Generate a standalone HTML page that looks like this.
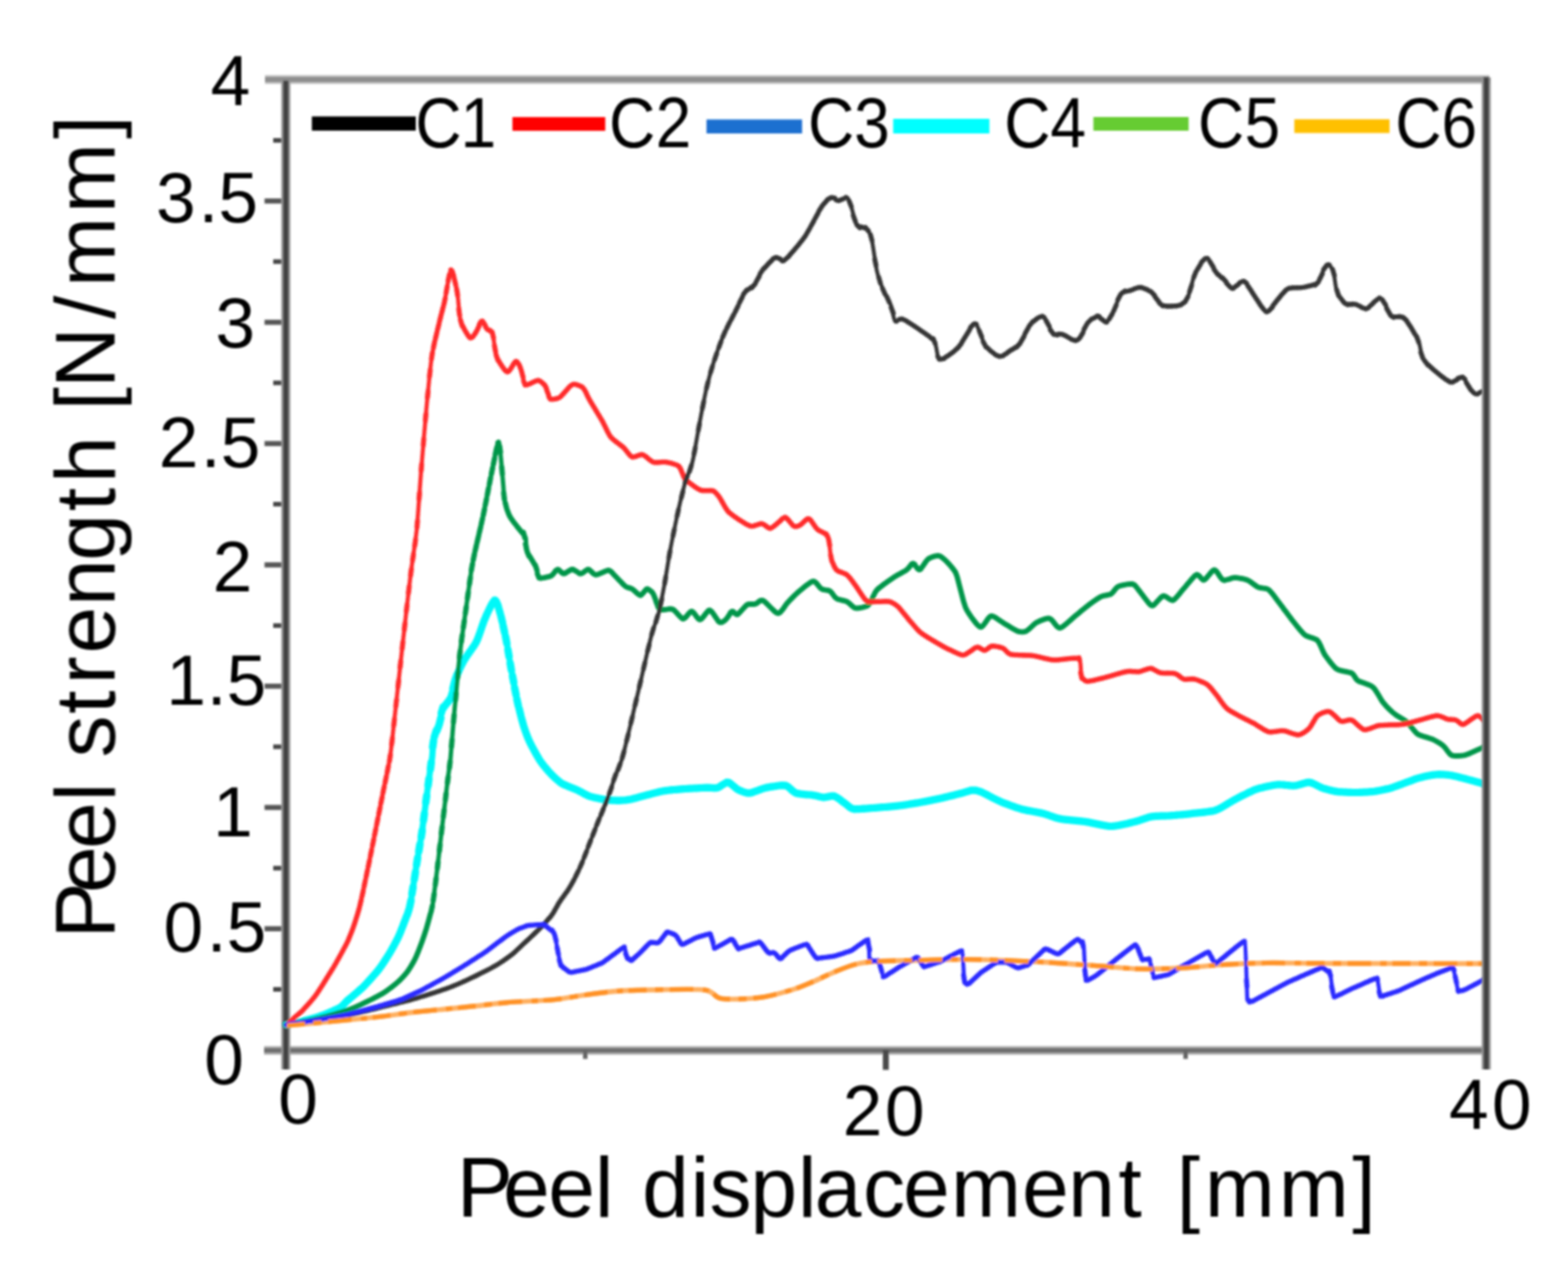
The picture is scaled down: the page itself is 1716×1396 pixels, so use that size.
<!DOCTYPE html>
<html lang="en"><head><meta charset="utf-8"><title>Peel strength vs peel displacement</title>
<style>
html,body{margin:0;padding:0;background:#fff;}
body{width:1716px;height:1396px;overflow:hidden;}
svg{display:block;}
text{font-family:"Liberation Sans", sans-serif;fill:#000;}
.curve{fill:none;stroke-linejoin:round;stroke-linecap:butt;}
</style></head><body>
<svg width="1716" height="1396" viewBox="0 0 1716 1396">
<defs><filter id="soft" x="-5%" y="-5%" width="110%" height="110%"><feGaussianBlur stdDeviation="1.3"/></filter><filter id="softl" x="-5%" y="-5%" width="110%" height="110%"><feGaussianBlur stdDeviation="1.3"/></filter></defs>
<rect width="1716" height="1396" fill="#ffffff"/>
<g filter="url(#soft)" fill="none">
<line x1="290" y1="87.0" x2="1630.0" y2="87.0" stroke="#c8c8c8" stroke-width="9.8"/>
<line x1="290" y1="87.0" x2="1630.0" y2="87.0" stroke="#8e8e8e" stroke-width="5.8"/>
<line x1="289" y1="1149.2" x2="1626.5" y2="1149.2" stroke="#b4b4b4" stroke-width="9.5"/>
<line x1="289" y1="1149.2" x2="1626.5" y2="1149.2" stroke="#6e6e6e" stroke-width="5.2"/>
<line x1="289.5" y1="219.9" x2="312.8" y2="219.9" stroke="#575757" stroke-width="5.6"/>
<line x1="289.5" y1="352.6" x2="312.8" y2="352.6" stroke="#575757" stroke-width="5.6"/>
<line x1="289.5" y1="485.3" x2="312.8" y2="485.3" stroke="#575757" stroke-width="5.6"/>
<line x1="289.5" y1="618.0" x2="312.8" y2="618.0" stroke="#575757" stroke-width="5.6"/>
<line x1="289.5" y1="750.7" x2="312.8" y2="750.7" stroke="#575757" stroke-width="5.6"/>
<line x1="289.5" y1="883.4" x2="312.8" y2="883.4" stroke="#575757" stroke-width="5.6"/>
<line x1="289.5" y1="1016.1" x2="312.8" y2="1016.1" stroke="#575757" stroke-width="5.6"/>
<line x1="299" y1="153.6" x2="312.8" y2="153.6" stroke="#444" stroke-width="5"/>
<line x1="299" y1="286.2" x2="312.8" y2="286.2" stroke="#444" stroke-width="5"/>
<line x1="299" y1="418.9" x2="312.8" y2="418.9" stroke="#444" stroke-width="5"/>
<line x1="299" y1="551.6" x2="312.8" y2="551.6" stroke="#444" stroke-width="5"/>
<line x1="299" y1="684.4" x2="312.8" y2="684.4" stroke="#444" stroke-width="5"/>
<line x1="299" y1="817.0" x2="312.8" y2="817.0" stroke="#444" stroke-width="5"/>
<line x1="299" y1="949.8" x2="312.8" y2="949.8" stroke="#444" stroke-width="5"/>
<line x1="299" y1="1082.4" x2="312.8" y2="1082.4" stroke="#444" stroke-width="5"/>
<line x1="969.4" y1="1148.8" x2="969.4" y2="1170.5" stroke="#4a4a4a" stroke-width="6.5"/>
<line x1="640.5" y1="1148.8" x2="640.5" y2="1158.5" stroke="#666" stroke-width="5"/>
<line x1="1297.5" y1="1148.8" x2="1297.5" y2="1158.5" stroke="#666" stroke-width="5"/>
<line x1="312.8" y1="88.2" x2="312.8" y2="1170" stroke="#9a9a9a" stroke-width="10.0"/>
<line x1="312.8" y1="88.2" x2="312.8" y2="1170" stroke="#424242" stroke-width="6.0"/>
</g>
<g filter="url(#softl)">
<g class="curve">
<path d="M314.0 1121.0C315.9 1120.6 326.1 1118.5 330.0 1117.5C333.9 1116.5 343.0 1114.1 346.6 1113.0C350.2 1111.9 356.9 1109.3 360.0 1108.0C363.1 1106.7 370.2 1103.6 372.6 1102.0C375.0 1100.4 377.0 1097.6 380.0 1094.9C383.0 1092.2 393.3 1083.9 397.5 1079.7C401.7 1075.5 411.5 1064.5 415.0 1060.0C418.5 1055.5 424.1 1046.6 426.6 1042.4C429.1 1038.2 434.0 1029.2 436.0 1025.0C438.0 1020.8 441.5 1011.7 443.0 1007.5C444.5 1003.3 447.3 997.3 448.8 990.0C450.3 982.7 454.3 956.0 455.8 946.6C457.3 937.2 460.4 920.0 461.6 911.6C462.8 903.2 465.1 885.0 466.2 876.6C467.3 868.2 470.1 847.5 470.9 841.7C471.7 835.9 472.5 832.2 473.0 828.0C473.5 823.8 473.9 811.2 474.8 807.0C475.7 802.8 479.6 796.6 480.7 793.0C481.8 789.4 482.5 780.4 484.0 776.8C485.5 773.2 491.8 766.7 493.5 762.8C495.2 758.9 496.3 748.8 498.0 744.0C499.7 739.2 504.7 728.0 507.5 723.0C510.3 718.0 518.6 707.6 521.4 702.0C524.2 696.4 528.4 682.0 530.8 676.6C533.2 671.2 539.4 657.5 541.3 656.7C543.2 655.9 545.5 664.4 547.0 669.6C548.5 674.8 552.6 693.0 554.0 700.0C555.4 707.0 557.3 720.0 558.7 727.8C560.1 735.6 564.0 757.2 565.7 765.0C567.4 772.8 571.0 787.4 572.7 793.0C574.4 798.6 577.5 806.9 579.7 811.7C581.9 816.5 588.6 828.5 591.4 832.7C594.2 836.9 600.2 843.8 603.0 846.7C605.8 849.6 611.3 854.9 614.7 857.0C618.1 859.1 627.4 862.3 631.0 864.0C634.6 865.7 641.4 869.7 645.0 871.0C648.6 872.3 657.4 874.1 661.3 874.7C665.2 875.3 674.2 875.8 677.6 875.8C681.0 875.8 686.9 875.1 690.0 874.5C693.1 873.9 698.9 872.1 703.3 871.0C707.7 869.9 721.0 866.3 726.6 865.3C732.2 864.3 744.4 863.4 750.0 863.0C755.6 862.6 769.0 861.9 773.2 861.8C777.4 861.7 782.2 862.5 785.0 861.8C787.8 861.1 793.8 855.7 796.6 856.0C799.4 856.3 805.2 862.6 808.0 864.0C810.8 865.4 816.3 867.9 820.0 867.6C823.7 867.3 833.8 862.8 838.5 861.8C843.2 860.8 855.6 858.7 859.5 859.4C863.4 860.1 867.4 866.3 871.0 867.6C874.6 868.9 886.2 869.4 889.8 870.0C893.4 870.6 898.6 872.2 901.4 872.3C904.2 872.4 910.2 870.2 913.0 871.0C915.8 871.8 922.3 877.3 924.8 879.0C927.3 880.7 930.4 884.4 934.0 885.0C937.6 885.6 949.1 884.4 955.0 884.0C960.9 883.6 976.8 882.3 983.0 881.6C989.2 880.9 1000.7 879.0 1006.3 878.0C1011.9 877.0 1024.0 874.6 1029.6 873.4C1035.2 872.2 1048.8 868.7 1053.0 867.6C1057.2 866.5 1062.1 864.6 1064.6 864.5C1067.1 864.4 1070.4 865.1 1074.0 866.6C1077.6 868.1 1089.7 874.8 1095.0 877.0C1100.3 879.2 1112.7 883.7 1118.3 885.3C1123.9 886.9 1136.6 888.7 1141.6 890.0C1146.6 891.3 1154.4 894.7 1160.0 895.8C1165.6 896.9 1181.3 898.0 1188.0 899.0C1194.7 900.0 1209.5 904.0 1216.0 904.0C1222.5 904.0 1236.5 900.3 1241.8 899.0C1247.1 897.7 1255.7 894.2 1260.5 893.4C1265.3 892.6 1276.1 892.7 1281.4 892.3C1286.7 891.9 1298.9 890.7 1304.8 890.0C1310.7 889.3 1324.8 888.2 1330.4 886.4C1336.0 884.6 1346.1 877.5 1351.4 874.8C1356.7 872.1 1369.1 865.5 1374.7 863.5C1380.3 861.5 1393.0 859.0 1398.0 858.5C1403.0 858.0 1412.4 859.9 1416.6 859.6C1420.8 859.3 1429.4 855.7 1433.0 856.0C1436.6 856.3 1443.4 860.8 1447.0 862.0C1450.6 863.2 1458.5 865.4 1462.9 866.0C1467.3 866.6 1479.0 867.0 1483.8 867.0C1488.6 867.0 1498.0 866.6 1502.5 866.0C1507.0 865.4 1516.8 863.5 1521.0 862.4C1525.2 861.3 1533.5 858.0 1537.4 856.6C1541.3 855.2 1549.6 851.9 1553.8 850.8C1558.0 849.7 1568.2 847.6 1572.4 847.3C1576.6 847.0 1584.5 847.7 1588.7 848.4C1592.9 849.1 1603.1 851.9 1607.4 853.0C1611.7 854.1 1622.8 857.2 1624.9 857.8" stroke="#00f8f8" stroke-width="6.8"/>
<path d="M313.4 1121.1l1.1 -0.2M315.4 1120.7l2.2 -0.5M317.9 1120.2l2.2 -0.5M320.4 1119.6l2.2 -0.5M322.9 1119.1l2.2 -0.5M325.4 1118.6l2.2 -0.5M327.9 1118.0l2.2 -0.5M330.4 1117.4l2.2 -0.6M332.9 1116.8l2.2 -0.6M335.4 1116.1l2.2 -0.6M337.9 1115.5l2.2 -0.6M340.4 1114.8l2.2 -0.6M342.9 1114.1l2.2 -0.7M345.4 1113.4l2.2 -0.7M347.9 1112.6l2.2 -0.8M350.4 1111.7l2.2 -0.8M352.9 1110.8l2.2 -0.8M355.4 1109.9l2.2 -0.9M357.9 1108.9l2.2 -0.9M360.4 1107.8l2.2 -1.0M362.9 1106.8l2.2 -1.0M365.4 1105.6l2.2 -1.0M367.9 1104.5l2.2 -1.1M370.4 1103.3l2.2 -1.3M372.9 1101.9l2.2 -1.9M375.4 1099.6l2.2 -2.3M377.9 1096.9l2.2 -2.2M380.4 1094.6l2.2 -2.0M382.9 1092.4l2.2 -1.9M385.4 1090.3l2.2 -1.9M387.9 1088.2l2.2 -1.9M390.4 1086.1l2.2 -1.9M392.9 1083.9l2.2 -2.0M395.4 1081.7l2.2 -2.1M397.9 1079.3l2.2 -2.3M400.4 1076.7l2.2 -2.4M402.9 1074.0l2.2 -2.5M405.4 1071.2l2.2 -2.5M407.9 1068.4l2.2 -2.6M410.4 1065.6l2.2 -2.6M412.9 1062.7l2.2 -2.8M415.4 1059.5l2.2 -3.1M417.9 1056.0l2.2 -3.3M420.4 1052.3l2.2 -3.5M422.9 1048.4l2.2 -3.6M425.4 1044.5l2.2 -3.8M427.9 1040.2l2.2 -4.0M430.4 1035.8l2.2 -4.2M432.9 1031.2l2.2 -4.4M435.4 1026.4l2.2 -5.0M437.9 1020.7l2.2 -5.6M440.4 1014.4l2.2 -5.9M442.9 1007.9l2.2 -6.0M445.5 1001.5l2.1 -6.6M448.3 992.4l1.4 -6.8M450.9 977.6l1.1 -6.9M453.5 961.6l1.1 -6.9M455.9 945.8l1.1 -6.9M458.4 931.0l1.1 -6.9M461.0 915.7l1.0 -6.9M463.5 897.2l0.9 -6.9M466.0 877.8l0.9 -6.9M468.5 859.2l0.9 -6.9M471.1 841.2l0.8 -6.9M473.5 817.2l1.0 -6.9M475.5 805.6l2.0 -6.5M477.9 800.0l2.2 -5.8M480.7 792.6l1.7 -6.8M483.0 779.9l1.9 -6.3M485.4 774.4l2.2 -3.3M487.9 771.0l2.2 -3.0M490.4 768.0l2.2 -3.6M493.0 764.6l2.0 -6.4M495.7 753.3l1.7 -6.8M497.9 744.6l2.2 -6.5M500.4 738.0l2.2 -5.1M502.9 732.4l2.2 -4.8M505.4 727.0l2.2 -4.2M507.9 722.4l2.2 -3.6M510.4 718.5l2.2 -3.3M512.9 714.9l2.2 -3.2M515.4 711.4l2.2 -3.3M517.9 707.9l2.2 -3.6M520.4 704.1l2.2 -4.6M522.9 698.6l2.2 -6.0M525.4 691.8l2.2 -6.5M527.9 684.3l2.2 -6.1M530.4 677.7l2.2 -5.3M532.9 671.9l2.2 -4.8M535.4 666.6l2.2 -4.4M537.9 661.4l2.2 -3.4M541.5 656.7l0.0 0.0M542.9 657.7l2.1 4.8M545.5 664.5l1.9 6.7M548.2 674.1l1.7 6.8M550.7 685.0l1.5 6.8M553.3 696.6l1.3 6.9M555.9 711.1l1.2 6.9M558.4 726.0l1.2 6.9M560.9 739.7l1.3 6.9M563.3 753.0l1.4 6.9M565.7 765.2l1.5 6.8M568.2 775.6l1.7 6.8M570.6 785.4l1.9 6.7M572.9 793.7l2.2 6.6M575.4 801.1l2.2 5.9M577.9 807.6l2.2 5.1M580.4 813.1l2.2 4.4M582.9 817.9l2.2 4.1M585.4 822.5l2.2 4.0M587.9 826.9l2.2 3.8M590.4 831.2l2.2 3.3M592.9 834.8l2.2 2.9M595.4 838.0l2.2 2.7M597.9 841.0l2.2 2.6M600.4 843.9l2.2 2.4M602.9 846.6l2.2 2.3M605.4 849.1l2.2 2.1M607.9 851.5l2.2 2.0M610.4 853.7l2.2 1.8M612.9 855.8l2.2 1.5M615.4 857.4l2.2 1.2M617.9 858.6l2.2 1.0M620.4 859.7l2.2 0.9M622.9 860.7l2.2 0.9M625.4 861.7l2.2 0.9M627.9 862.7l2.2 0.9M630.4 863.7l2.2 1.1M632.9 864.9l2.2 1.2M635.4 866.2l2.2 1.2M637.9 867.6l2.2 1.2M640.4 868.9l2.2 1.1M642.9 870.2l2.2 0.9M645.4 871.1l2.2 0.7M647.9 871.9l2.2 0.6M650.4 872.5l2.2 0.5M652.9 873.1l2.2 0.5M655.4 873.6l2.2 0.4M657.9 874.1l2.2 0.4M660.4 874.6l2.2 0.3M662.9 874.9l2.2 0.2M665.4 875.2l2.2 0.2M667.9 875.4l2.2 0.2M670.4 875.5l2.2 0.1M672.9 875.7l2.2 0.1M675.4 875.8l2.2 0.0M677.9 875.8l2.2 -0.1M680.4 875.7l2.2 -0.2M682.9 875.5l2.2 -0.2M685.4 875.2l2.2 -0.3M687.9 874.9l2.2 -0.4M690.4 874.4l2.2 -0.5M692.9 873.8l2.2 -0.6M695.4 873.2l2.2 -0.6M697.9 872.5l2.2 -0.6M700.4 871.8l2.2 -0.6M702.9 871.1l2.2 -0.6M705.4 870.5l2.2 -0.6M707.9 869.8l2.2 -0.6M710.4 869.2l2.2 -0.6M712.9 868.5l2.2 -0.6M715.4 867.9l2.2 -0.6M717.9 867.2l2.2 -0.5M720.4 866.6l2.2 -0.5M722.9 866.1l2.2 -0.5M725.4 865.5l2.2 -0.4M727.9 865.1l2.2 -0.3M730.4 864.8l2.2 -0.3M732.9 864.5l2.2 -0.2M735.4 864.2l2.2 -0.2M737.9 864.0l2.2 -0.2M740.4 863.8l2.2 -0.2M742.9 863.6l2.2 -0.2M745.4 863.4l2.2 -0.2M747.9 863.2l2.2 -0.2M750.4 863.0l2.2 -0.2M752.9 862.8l2.2 -0.1M755.4 862.7l2.2 -0.1M757.9 862.5l2.2 -0.1M760.4 862.4l2.2 -0.1M762.9 862.3l2.2 -0.1M765.4 862.1l2.2 -0.1M767.9 862.0l2.2 -0.1M770.4 861.9l2.2 -0.1M772.9 861.8l2.2 -0.0M775.4 861.8l2.2 0.1M777.9 861.9l2.2 0.1M780.4 862.1l2.2 0.0M782.9 862.2l2.2 -0.4M785.4 861.7l2.2 -1.0M787.9 860.4l2.2 -1.4M790.4 858.8l2.2 -1.3M792.9 857.2l2.2 -0.9M795.6 855.9l1.7 0.1M797.9 856.4l2.2 1.3M800.4 858.1l2.2 1.8M802.9 860.1l2.2 1.8M805.4 862.3l2.2 1.5M807.9 863.9l2.2 1.1M810.4 865.1l2.2 0.9M812.9 866.2l2.2 0.7M815.4 867.0l2.2 0.5M817.9 867.6l2.2 0.0M820.4 867.6l2.2 -0.4M822.9 867.0l2.2 -0.7M825.4 866.2l2.2 -0.8M827.9 865.3l2.2 -0.8M830.4 864.4l2.2 -0.8M832.9 863.5l2.2 -0.8M835.4 862.6l2.2 -0.6M837.9 861.9l2.2 -0.5M840.4 861.4l2.2 -0.4M842.9 861.0l2.2 -0.4M845.4 860.6l2.2 -0.3M847.9 860.2l2.2 -0.3M850.4 859.8l2.2 -0.3M852.9 859.5l2.2 -0.2M855.4 859.3l2.2 -0.0M857.9 859.2l2.1 0.4M860.4 859.6l2.1 1.2M862.9 861.1l2.2 1.9M865.4 863.4l2.2 2.0M867.9 865.7l2.2 1.5M870.4 867.3l2.2 0.8M872.9 868.1l2.2 0.4M875.4 868.5l2.2 0.3M877.9 868.8l2.2 0.2M880.4 869.1l2.2 0.2M882.9 869.3l2.2 0.2M885.4 869.5l2.2 0.2M887.9 869.7l2.2 0.3M890.4 870.1l2.2 0.4M892.9 870.6l2.2 0.5M895.4 871.2l2.2 0.5M897.9 871.8l2.2 0.4M900.4 872.3l2.2 0.0M902.9 872.2l2.2 -0.3M905.4 871.8l2.2 -0.4M907.9 871.2l2.2 -0.3M910.4 870.8l2.1 0.1M912.9 871.0l2.1 0.9M915.4 872.2l2.2 1.5M917.9 873.8l2.2 1.6M920.4 875.7l2.2 1.7M922.9 877.6l2.2 1.7M925.4 879.4l2.2 1.8M927.9 881.6l2.2 1.7M930.4 883.5l2.2 1.1M932.9 884.8l2.2 0.5M935.4 885.1l2.2 0.1M937.9 885.2l2.2 -0.1M940.4 885.1l2.2 -0.1M942.9 884.9l2.2 -0.2M945.4 884.8l2.2 -0.2M947.9 884.6l2.2 -0.2M950.4 884.4l2.2 -0.2M952.9 884.2l2.2 -0.2M955.4 884.0l2.2 -0.2M957.9 883.8l2.2 -0.2M960.4 883.6l2.2 -0.2M962.9 883.4l2.2 -0.2M965.4 883.2l2.2 -0.2M967.9 883.0l2.2 -0.2M970.4 882.8l2.2 -0.2M972.9 882.6l2.2 -0.2M975.4 882.4l2.2 -0.2M977.9 882.1l2.2 -0.2M980.4 881.9l2.2 -0.2M982.9 881.6l2.2 -0.3M985.4 881.3l2.2 -0.3M987.9 881.0l2.2 -0.3M990.4 880.6l2.2 -0.3M992.9 880.2l2.2 -0.4M995.4 879.8l2.2 -0.4M997.9 879.4l2.2 -0.4M1000.4 879.0l2.2 -0.4M1002.9 878.6l2.2 -0.4M1005.4 878.2l2.2 -0.4M1007.9 877.7l2.2 -0.4M1010.4 877.3l2.2 -0.4M1012.9 876.8l2.2 -0.4M1015.4 876.3l2.2 -0.4M1017.9 875.8l2.2 -0.4M1020.4 875.3l2.2 -0.5M1022.9 874.8l2.2 -0.5M1025.4 874.3l2.2 -0.5M1027.9 873.8l2.2 -0.5M1030.4 873.2l2.2 -0.5M1032.9 872.6l2.2 -0.5M1035.4 872.0l2.2 -0.6M1037.9 871.4l2.2 -0.6M1040.4 870.8l2.2 -0.6M1042.9 870.2l2.2 -0.6M1045.4 869.5l2.2 -0.6M1047.9 868.9l2.2 -0.6M1050.4 868.3l2.2 -0.6M1052.9 867.6l2.2 -0.6M1055.4 866.9l2.2 -0.7M1057.9 866.2l2.2 -0.7M1060.4 865.4l2.2 -0.6M1062.9 864.7l2.2 -0.2M1065.4 864.5l2.2 0.2M1067.9 864.7l2.2 0.5M1070.4 865.3l2.2 0.7M1072.9 866.1l2.2 0.9M1075.4 867.2l2.2 1.1M1077.9 868.4l2.2 1.1M1080.4 869.7l2.2 1.2M1082.9 871.0l2.2 1.2M1085.4 872.3l2.2 1.2M1087.9 873.6l2.2 1.1M1090.4 874.8l2.2 1.1M1092.9 876.1l2.2 1.0M1095.4 877.2l2.2 0.9M1097.9 878.2l2.2 0.9M1100.4 879.1l2.2 0.8M1102.9 880.1l2.2 0.8M1105.4 881.0l2.2 0.8M1107.9 881.9l2.2 0.8M1110.4 882.8l2.2 0.8M1112.9 883.6l2.2 0.7M1115.4 884.4l2.2 0.7M1117.9 885.2l2.2 0.6M1120.4 885.8l2.2 0.5M1122.9 886.4l2.2 0.5M1125.4 886.9l2.2 0.4M1127.9 887.3l2.2 0.4M1130.4 887.8l2.2 0.4M1132.9 888.3l2.2 0.4M1135.4 888.7l2.2 0.4M1137.9 889.2l2.2 0.5M1140.4 889.7l2.2 0.6M1142.9 890.4l2.2 0.7M1145.4 891.1l2.2 0.8M1147.9 892.0l2.2 0.8M1150.4 892.9l2.2 0.8M1152.9 893.8l2.2 0.7M1155.4 894.6l2.2 0.6M1157.9 895.3l2.2 0.5M1160.4 895.9l2.2 0.4M1162.9 896.3l2.2 0.3M1165.4 896.6l2.2 0.3M1167.9 896.8l2.2 0.2M1170.4 897.1l2.2 0.2M1172.9 897.4l2.2 0.2M1175.4 897.6l2.2 0.2M1177.9 897.9l2.2 0.2M1180.4 898.1l2.2 0.2M1182.9 898.4l2.2 0.3M1185.4 898.7l2.2 0.3M1187.9 899.0l2.2 0.4M1190.4 899.4l2.2 0.4M1192.9 899.9l2.2 0.5M1195.4 900.4l2.2 0.5M1197.9 901.0l2.2 0.5M1200.4 901.5l2.2 0.5M1202.9 902.0l2.2 0.5M1205.4 902.5l2.2 0.4M1207.9 903.0l2.2 0.4M1210.4 903.4l2.2 0.3M1212.9 903.8l2.2 0.2M1215.4 904.0l2.2 -0.0M1217.9 903.9l2.2 -0.2M1220.4 903.6l2.2 -0.3M1222.9 903.2l2.2 -0.4M1225.4 902.8l2.2 -0.5M1227.9 902.3l2.2 -0.5M1230.4 901.7l2.2 -0.5M1232.9 901.2l2.2 -0.5M1235.4 900.6l2.2 -0.5M1237.9 900.0l2.2 -0.6M1240.4 899.4l2.2 -0.6M1242.9 898.7l2.2 -0.6M1245.4 898.0l2.2 -0.7M1247.9 897.2l2.2 -0.7M1250.4 896.4l2.2 -0.7M1252.9 895.5l2.2 -0.7M1255.4 894.7l2.2 -0.7M1257.9 894.0l2.2 -0.5M1260.4 893.4l2.2 -0.3M1262.9 893.1l2.2 -0.2M1265.4 892.9l2.2 -0.1M1267.9 892.8l2.2 -0.1M1270.4 892.7l2.2 -0.1M1272.9 892.6l2.2 -0.1M1275.4 892.6l2.2 -0.1M1277.9 892.5l2.2 -0.1M1280.4 892.4l2.2 -0.2M1282.9 892.2l2.2 -0.2M1285.4 892.0l2.2 -0.2M1287.9 891.7l2.2 -0.2M1290.4 891.5l2.2 -0.2M1292.9 891.3l2.2 -0.2M1295.4 891.0l2.2 -0.2M1297.9 890.8l2.2 -0.2M1300.4 890.5l2.2 -0.2M1302.9 890.2l2.2 -0.3M1305.4 889.9l2.2 -0.2M1307.9 889.7l2.2 -0.2M1310.4 889.4l2.2 -0.2M1312.9 889.2l2.2 -0.2M1315.4 888.9l2.2 -0.3M1317.9 888.6l2.2 -0.3M1320.4 888.3l2.2 -0.3M1322.9 887.9l2.2 -0.4M1325.4 887.6l2.2 -0.4M1327.9 887.1l2.2 -0.6M1330.4 886.4l2.2 -0.9M1332.9 885.4l2.2 -1.1M1335.4 884.2l2.2 -1.2M1337.9 882.8l2.2 -1.3M1340.4 881.3l2.2 -1.3M1342.9 879.8l2.2 -1.4M1345.4 878.3l2.2 -1.3M1347.9 876.8l2.2 -1.3M1350.4 875.4l2.2 -1.2M1352.9 874.0l2.2 -1.2M1355.4 872.7l2.2 -1.2M1357.9 871.4l2.2 -1.2M1360.4 870.2l2.2 -1.1M1362.9 868.9l2.2 -1.1M1365.4 867.6l2.2 -1.1M1367.9 866.4l2.2 -1.0M1370.4 865.3l2.2 -1.0M1372.9 864.2l2.2 -0.8M1375.4 863.3l2.2 -0.7M1377.9 862.5l2.2 -0.6M1380.4 861.9l2.2 -0.5M1382.9 861.3l2.2 -0.5M1385.4 860.7l2.2 -0.5M1387.9 860.2l2.2 -0.4M1390.4 859.7l2.2 -0.4M1392.9 859.2l2.2 -0.4M1395.4 858.8l2.2 -0.3M1397.9 858.5l2.2 -0.1M1400.4 858.4l2.2 0.1M1402.9 858.5l2.2 0.2M1405.4 858.8l2.2 0.2M1407.9 859.0l2.2 0.2M1410.4 859.3l2.2 0.2M1412.9 859.5l2.2 0.1M1415.4 859.7l2.2 -0.2M1417.9 859.4l2.2 -0.5M1420.4 858.9l2.2 -0.6M1422.9 858.2l2.2 -0.6M1425.4 857.5l2.2 -0.6M1427.9 856.8l2.2 -0.5M1430.4 856.1l2.2 -0.2M1432.9 856.0l2.2 0.4M1435.4 856.6l2.2 0.9M1437.9 857.6l2.2 1.1M1440.4 858.8l2.2 1.1M1442.9 860.1l2.2 1.1M1445.4 861.4l2.2 0.9M1447.9 862.3l2.2 0.7M1450.4 863.0l2.2 0.6M1452.9 863.8l2.2 0.6M1455.4 864.4l2.2 0.5M1457.9 865.0l2.2 0.5M1460.4 865.6l2.2 0.4M1462.9 866.0l2.2 0.3M1465.4 866.3l2.2 0.2M1467.9 866.4l2.2 0.1M1470.4 866.6l2.2 0.1M1472.9 866.7l2.2 0.1M1475.4 866.8l2.2 0.1M1477.9 866.9l2.2 0.1M1480.4 867.0l2.2 0.0M1482.9 867.0l2.2 -0.0M1485.4 867.0l2.2 -0.0M1487.9 866.9l2.2 -0.1M1490.4 866.8l2.2 -0.1M1492.9 866.7l2.2 -0.1M1495.4 866.6l2.2 -0.1M1497.9 866.4l2.2 -0.2M1500.4 866.2l2.2 -0.2M1502.9 866.0l2.2 -0.3M1505.4 865.6l2.2 -0.4M1507.9 865.2l2.2 -0.4M1510.4 864.7l2.2 -0.4M1512.9 864.2l2.2 -0.5M1515.4 863.7l2.2 -0.5M1517.9 863.2l2.2 -0.5M1520.4 862.6l2.2 -0.6M1522.9 861.8l2.2 -0.7M1525.4 861.0l2.2 -0.8M1527.9 860.1l2.2 -0.8M1530.4 859.2l2.2 -0.8M1532.9 858.3l2.2 -0.8M1535.4 857.3l2.2 -0.8M1537.9 856.4l2.2 -0.8M1540.4 855.5l2.2 -0.8M1542.9 854.6l2.2 -0.8M1545.4 853.6l2.2 -0.8M1547.9 852.7l2.2 -0.8M1550.4 851.8l2.2 -0.7M1552.9 851.1l2.2 -0.6M1555.4 850.4l2.2 -0.5M1557.9 849.8l2.2 -0.5M1560.4 849.3l2.2 -0.5M1562.9 848.8l2.2 -0.4M1565.4 848.3l2.2 -0.4M1567.9 847.9l2.2 -0.3M1570.4 847.5l2.2 -0.2M1572.9 847.3l2.2 -0.1M1575.4 847.2l2.2 0.1M1577.9 847.3l2.2 0.1M1580.4 847.5l2.2 0.2M1582.9 847.7l2.2 0.2M1585.4 847.9l2.2 0.3M1587.9 848.3l2.2 0.4M1590.4 848.7l2.2 0.5M1592.9 849.3l2.2 0.5M1595.4 849.9l2.2 0.6M1597.9 850.5l2.2 0.6M1600.4 851.1l2.2 0.6M1602.9 851.8l2.2 0.6M1605.4 852.5l2.2 0.6M1607.9 853.1l2.2 0.6M1610.4 853.8l2.2 0.6M1612.9 854.5l2.2 0.6M1615.4 855.2l2.2 0.6M1617.9 855.9l2.2 0.6M1620.4 856.5l2.2 0.6M1623.4 857.4l1.1 0.3" stroke="#00f8f8" stroke-width="8.2" stroke-linecap="round"/>
<path d="M314.0 1121.0C317.7 1120.3 337.1 1116.9 345.0 1115.0C352.9 1113.1 373.0 1107.8 380.0 1105.4C387.0 1103.0 398.4 1097.4 403.3 1095.0C408.2 1092.6 416.9 1088.1 420.8 1085.6C424.7 1083.1 432.9 1076.7 436.0 1073.9C439.1 1071.1 444.2 1065.4 446.4 1062.3C448.6 1059.2 452.8 1052.1 454.6 1048.3C456.4 1044.5 460.1 1035.0 461.6 1030.8C463.1 1026.6 466.2 1017.5 467.4 1013.3C468.6 1009.1 471.3 998.6 472.0 995.8C472.7 993.0 472.7 995.9 473.5 990.0C474.3 984.1 477.8 956.7 479.0 946.6C480.2 936.5 482.7 914.2 483.7 905.8C484.7 897.4 486.4 883.6 487.2 876.6C488.0 869.6 490.0 853.1 490.7 847.5C491.4 841.9 492.4 836.5 493.0 830.0C493.6 823.5 495.3 801.4 496.0 793.0C496.7 784.6 498.1 769.6 499.0 760.0C499.9 750.4 502.2 724.4 503.5 713.2C504.8 702.0 508.3 677.8 509.9 666.6C511.5 655.4 515.0 628.7 516.5 620.0C518.0 611.3 520.5 600.6 522.0 594.0C523.5 587.4 527.1 572.0 528.6 565.0C530.1 558.0 533.0 542.8 534.4 535.8C535.8 528.8 538.8 512.9 540.2 506.6C541.6 500.3 544.7 480.7 546.0 483.5C547.3 486.3 550.0 522.3 550.7 530.0C551.4 537.7 551.4 543.3 552.2 547.4C553.0 551.5 555.8 560.7 557.7 564.5C559.6 568.3 566.1 576.1 568.2 578.9C570.3 581.7 574.2 585.4 575.2 588.2C576.2 591.0 575.4 599.3 576.2 602.2C577.0 605.1 580.9 610.4 582.2 612.7C583.5 615.0 586.0 619.2 587.0 621.5C588.0 623.8 588.3 631.0 590.2 632.0C592.1 633.0 600.6 631.1 603.0 630.0C605.4 628.9 608.3 623.3 610.0 623.0C611.7 622.7 615.0 627.6 617.0 627.6C619.0 627.6 624.1 623.0 626.3 623.0C628.5 623.0 633.5 627.6 635.6 627.6C637.7 627.6 641.8 622.9 643.8 623.0C645.8 623.1 649.3 628.7 652.0 628.8C654.7 628.9 663.5 623.9 666.0 624.0C668.5 624.1 670.8 627.9 673.0 630.0C675.2 632.1 682.4 639.9 684.6 641.6C686.8 643.3 689.7 643.1 691.7 644.3C693.7 645.5 699.0 651.3 701.0 651.3C703.0 651.3 706.3 644.5 708.0 644.3C709.7 644.1 713.3 647.3 715.0 650.0C716.7 652.7 719.5 664.5 722.0 666.5C724.5 668.5 732.9 665.2 736.0 666.5C739.1 667.8 745.1 676.7 747.6 677.0C750.1 677.3 754.8 668.7 757.0 668.8C759.2 668.9 763.8 678.1 766.2 678.0C768.6 677.9 774.2 667.3 776.7 667.6C779.2 667.9 785.1 679.3 787.2 680.5C789.3 681.7 792.5 679.4 794.2 678.0C795.9 676.6 799.7 669.5 801.2 668.8C802.7 668.1 805.0 673.1 807.0 672.3C809.0 671.5 815.1 663.2 817.5 661.8C819.9 660.4 824.8 661.3 826.9 660.7C829.0 660.1 832.1 655.8 835.0 657.0C837.9 658.2 848.1 670.7 851.3 671.0C854.5 671.3 859.1 662.3 861.8 659.5C864.5 656.7 870.1 650.6 873.5 647.8C876.9 645.0 886.7 636.4 889.8 636.0C892.9 635.6 896.8 643.0 899.0 644.3C901.2 645.6 906.4 645.4 908.4 646.7C910.4 648.0 913.2 653.4 915.4 654.8C917.6 656.2 924.5 657.0 927.0 658.3C929.5 659.6 933.6 664.9 936.4 665.3C939.2 665.7 947.6 664.2 950.4 661.8C953.2 659.4 956.3 649.1 959.7 645.5C963.1 641.9 974.5 634.2 978.4 631.5C982.3 628.8 989.8 625.2 992.3 623.4C994.8 621.6 997.6 616.4 999.3 616.4C1001.0 616.4 1004.3 624.0 1006.3 623.4C1008.3 622.8 1013.2 613.5 1015.7 611.7C1018.2 609.9 1024.8 607.6 1027.3 608.0C1029.8 608.4 1034.4 612.7 1036.6 615.0C1038.8 617.3 1044.3 623.5 1046.0 626.9C1047.7 630.3 1049.2 638.2 1050.6 643.0C1052.0 647.8 1054.9 661.3 1057.6 666.5C1060.3 671.7 1069.6 685.1 1072.8 686.0C1076.0 686.9 1081.6 674.6 1084.5 674.0C1087.4 673.4 1093.8 679.0 1097.3 681.0C1100.8 683.0 1110.5 689.4 1113.6 690.5C1116.7 691.6 1120.5 691.6 1123.0 690.5C1125.5 689.4 1131.5 682.7 1134.6 681.0C1137.7 679.3 1145.6 675.9 1148.6 676.6C1151.6 677.3 1156.6 687.3 1160.0 687.0C1163.4 686.7 1172.9 676.9 1176.6 674.0C1180.3 671.1 1187.2 665.1 1190.5 662.6C1193.8 660.1 1201.4 654.5 1204.5 653.0C1207.6 651.5 1213.7 651.1 1216.0 649.7C1218.3 648.3 1221.2 642.9 1224.0 641.6C1226.8 640.3 1236.8 638.5 1239.5 639.0C1242.2 639.5 1244.5 643.7 1246.5 646.0C1248.5 648.3 1254.0 656.0 1255.8 658.0C1257.6 660.0 1259.5 663.3 1261.6 662.6C1263.7 661.9 1270.3 652.7 1273.0 652.0C1275.7 651.3 1281.1 657.7 1283.8 656.7C1286.5 655.7 1292.3 647.3 1295.4 644.0C1298.5 640.7 1306.7 629.9 1309.4 628.8C1312.1 627.7 1315.2 635.2 1317.6 634.6C1320.0 634.0 1326.5 623.5 1329.0 623.5C1331.5 623.5 1335.9 633.6 1338.6 634.6C1341.3 635.6 1348.2 632.0 1351.4 632.0C1354.6 632.0 1362.3 633.5 1365.4 634.8C1368.5 636.1 1374.2 641.2 1377.0 642.5C1379.8 643.8 1385.7 643.2 1388.5 645.3C1391.3 647.4 1397.1 655.9 1400.3 660.0C1403.5 664.1 1411.7 675.3 1415.0 679.5C1418.3 683.7 1424.8 692.0 1428.0 694.6C1431.2 697.2 1439.3 698.2 1441.9 700.8C1444.5 703.4 1447.5 712.8 1450.0 716.5C1452.5 720.2 1459.4 729.5 1462.9 731.9C1466.4 734.3 1476.4 735.0 1479.2 736.5C1482.0 738.0 1483.4 742.9 1486.2 744.7C1489.0 746.5 1499.2 748.8 1502.5 751.7C1505.8 754.6 1511.2 765.5 1514.0 769.0C1516.8 772.5 1522.7 778.3 1525.8 780.8C1528.9 783.3 1536.7 787.3 1539.8 790.0C1542.9 792.7 1548.1 800.7 1551.4 803.0C1554.7 805.3 1564.3 807.3 1567.7 808.8C1571.1 810.3 1576.9 813.7 1579.4 815.8C1581.9 817.9 1585.9 825.0 1588.7 826.3C1591.5 827.6 1599.3 827.0 1602.7 826.3C1606.1 825.6 1614.0 821.6 1616.7 820.5C1619.4 819.4 1623.9 817.4 1624.9 817.0" stroke="#06964a" stroke-width="4.8"/>
<path d="M313.5 1121.1l1.0 -0.2M315.2 1120.8l2.0 -0.4M317.4 1120.4l2.0 -0.4M319.6 1120.0l2.0 -0.4M321.8 1119.6l2.0 -0.4M324.0 1119.2l2.0 -0.4M326.2 1118.8l2.0 -0.4M328.4 1118.3l2.0 -0.4M330.6 1117.9l2.0 -0.4M332.8 1117.5l2.0 -0.4M335.0 1117.1l2.0 -0.4M337.2 1116.7l2.0 -0.4M339.4 1116.2l2.0 -0.4M341.6 1115.8l2.0 -0.4M343.8 1115.3l2.0 -0.5M346.0 1114.8l2.0 -0.5M348.2 1114.2l2.0 -0.5M350.4 1113.7l2.0 -0.5M352.6 1113.1l2.0 -0.5M354.8 1112.5l2.0 -0.5M357.0 1112.0l2.0 -0.5M359.2 1111.4l2.0 -0.5M361.4 1110.8l2.0 -0.5M363.6 1110.2l2.0 -0.5M365.8 1109.6l2.0 -0.5M368.0 1109.0l2.0 -0.6M370.2 1108.4l2.0 -0.6M372.4 1107.7l2.0 -0.6M374.6 1107.1l2.0 -0.6M376.8 1106.4l2.0 -0.6M379.0 1105.7l2.0 -0.7M381.2 1105.0l2.0 -0.8M383.4 1104.1l2.0 -0.8M385.6 1103.2l2.0 -0.8M387.8 1102.3l2.0 -0.9M390.0 1101.3l2.0 -0.9M392.2 1100.3l2.0 -0.9M394.4 1099.3l2.0 -0.9M396.6 1098.2l2.0 -0.9M398.8 1097.2l2.0 -1.0M401.0 1096.1l2.0 -1.0M403.2 1095.0l2.0 -1.0M405.4 1094.0l2.0 -1.0M407.6 1092.9l2.0 -1.0M409.8 1091.7l2.0 -1.0M412.0 1090.6l2.0 -1.1M414.2 1089.4l2.0 -1.1M416.4 1088.2l2.0 -1.1M418.6 1087.0l2.0 -1.2M420.8 1085.6l2.0 -1.3M423.0 1084.1l2.0 -1.4M425.2 1082.5l2.0 -1.5M427.4 1080.9l2.0 -1.5M429.6 1079.2l2.0 -1.6M431.8 1077.4l2.0 -1.6M434.0 1075.6l2.0 -1.7M436.2 1073.7l2.0 -1.9M438.4 1071.6l2.0 -2.1M440.6 1069.2l2.0 -2.2M442.8 1066.8l2.0 -2.4M445.0 1064.2l2.0 -2.7M447.2 1061.1l2.0 -3.1M449.4 1057.7l2.0 -3.4M451.6 1054.0l2.0 -3.7M453.8 1050.0l2.0 -4.2M456.0 1045.1l2.0 -4.8M458.2 1039.7l2.0 -5.1M460.4 1034.1l2.0 -5.4M462.6 1028.0l2.0 -5.8M464.8 1021.5l2.0 -6.2M467.0 1014.5l1.9 -6.7M469.3 1006.2l1.8 -6.8M471.7 998.0l1.4 -6.8M474.1 985.1l1.0 -6.9M476.4 967.8l0.9 -6.9M478.6 950.1l0.8 -7.0M480.8 931.1l0.8 -7.0M483.0 911.9l0.8 -7.0M485.2 893.4l0.8 -7.0M487.4 875.1l0.8 -7.0M489.6 856.7l0.9 -6.9M491.8 840.2l0.8 -7.0M494.1 816.6l0.6 -7.0M496.3 789.7l0.6 -7.0M498.5 765.6l0.6 -7.0M500.7 741.7l0.7 -7.0M502.8 719.4l0.8 -7.0M504.9 702.1l0.9 -6.9M507.1 686.3l1.0 -6.9M509.3 670.8l1.0 -6.9M511.5 654.8l1.0 -6.9M513.7 639.0l1.0 -6.9M515.8 624.1l1.2 -6.9M517.9 612.6l1.4 -6.9M520.0 602.7l1.5 -6.8M522.2 593.0l1.6 -6.8M524.4 583.4l1.6 -6.8M526.6 573.8l1.5 -6.8M528.9 563.6l1.4 -6.9M531.1 552.5l1.4 -6.9M533.3 541.3l1.3 -6.9M535.5 530.0l1.3 -6.9M537.7 518.8l1.4 -6.9M539.9 508.1l1.4 -6.9M542.1 496.8l1.5 -6.8M545.0 484.4l0.0 -0.0M546.7 487.9l1.0 6.8M549.1 511.3l0.6 7.0M551.2 539.2l0.8 6.9M553.0 550.2l1.7 6.7M555.0 557.8l2.0 5.3M557.2 563.5l2.0 3.7M559.4 567.3l2.0 2.8M561.6 570.4l2.0 2.6M563.8 573.3l2.0 2.5M566.0 576.1l2.0 2.5M568.2 578.9l2.0 2.4M570.4 581.5l2.0 2.4M572.8 582.5l1.6 5.9M575.1 595.1l1.5 6.8M577.0 603.6l1.9 4.8M579.2 607.9l2.0 3.2M581.4 611.4l2.0 3.3M583.6 615.1l2.0 3.6M585.8 618.2l1.9 5.8M588.2 628.0l1.7 4.2M590.5 631.9l1.4 0.7M592.4 632.3l2.0 -0.1M594.6 632.1l2.0 -0.3M596.8 631.7l2.0 -0.4M599.0 631.2l2.0 -0.5M601.2 630.8l1.9 -0.9M603.5 629.8l1.9 -1.7M605.6 627.6l2.0 -2.3M608.0 624.4l1.6 -1.1M610.4 623.1l1.2 0.3M612.2 624.2l2.0 1.6M614.5 626.4l1.8 1.0M616.9 627.6l1.5 -0.2M618.8 626.9l2.0 -1.1M621.0 625.6l2.0 -1.2M623.2 624.2l1.9 -0.9M625.6 623.0l1.6 0.0M627.6 623.4l1.9 1.0M629.8 624.6l2.0 1.2M632.0 626.0l2.0 1.0M634.4 627.5l1.5 0.1M636.5 627.4l1.9 -0.9M638.6 626.1l2.0 -1.4M640.9 624.3l1.9 -1.0M643.4 623.0l1.2 0.2M645.2 623.7l2.0 1.6M647.4 625.8l2.0 1.7M649.7 627.9l1.8 0.8M651.9 628.8l1.8 -0.1M654.0 628.4l2.0 -0.7M656.2 627.6l2.0 -0.8M658.4 626.7l2.0 -0.8M660.6 625.7l2.0 -0.8M662.8 624.8l2.0 -0.6M665.2 623.9l1.6 0.2M667.3 624.3l1.8 1.3M669.4 626.1l2.0 2.1M671.6 628.5l2.0 2.1M673.8 630.8l2.0 2.0M676.0 633.1l2.0 2.1M678.2 635.3l2.0 2.0M680.4 637.6l2.0 2.0M682.6 639.9l2.0 1.7M684.9 641.8l1.9 1.0M687.0 642.8l2.0 0.6M689.2 643.3l1.9 0.7M691.4 644.1l1.9 1.3M693.6 645.8l2.0 1.7M695.8 647.8l2.0 1.7M698.1 649.8l1.9 1.1M700.7 651.3l0.9 -0.2M702.4 650.4l1.9 -2.1M704.6 647.7l2.0 -2.2M707.3 644.6l1.0 -0.3M709.1 644.5l1.8 1.0M711.2 645.8l2.0 1.8M713.5 647.6l1.9 3.1M715.6 651.4l2.0 5.0M717.8 657.7l2.0 5.1M720.1 663.9l1.8 2.7M722.4 666.6l1.6 0.7M724.4 667.1l2.0 -0.0M726.6 667.0l2.0 -0.2M728.8 666.8l2.0 -0.3M731.0 666.4l2.0 -0.2M733.2 666.1l1.9 0.2M735.5 666.3l1.8 0.9M737.6 667.6l2.0 1.8M739.8 669.7l2.0 2.1M742.0 672.2l2.0 2.1M744.2 674.6l1.9 1.6M746.9 676.9l1.1 0.1M748.7 676.7l1.8 -1.3M750.8 674.8l2.0 -2.2M753.0 672.1l2.0 -2.1M755.7 669.2l1.0 -0.3M757.6 669.1l1.6 1.2M759.6 671.0l2.0 2.5M761.8 674.0l2.0 2.3M764.3 677.1l1.4 0.7M766.5 677.8l1.3 -0.7M768.4 676.3l2.0 -2.3M770.6 673.6l2.0 -2.5M772.8 670.7l1.9 -2.0M775.5 667.9l1.0 -0.2M777.3 667.9l1.7 1.4M779.4 670.0l2.0 2.6M781.6 673.0l2.0 2.9M783.8 676.3l2.0 2.6M786.2 679.8l1.6 1.1M788.4 680.9l1.7 -0.1M790.4 680.5l1.9 -1.0M792.6 679.3l1.9 -1.7M794.8 677.3l2.0 -2.5M797.0 674.2l2.0 -2.8M799.4 670.3l1.5 -1.3M801.9 669.0l1.0 0.4M803.7 670.6l1.9 1.4M806.4 672.4l0.9 -0.1M808.0 671.5l2.0 -1.8M810.2 669.3l2.0 -2.2M812.4 666.9l2.0 -2.2M814.6 664.3l2.0 -1.8M816.9 662.1l1.8 -1.0M819.0 661.2l1.9 -0.3M821.2 661.0l2.0 -0.1M823.4 661.0l2.0 -0.1M825.7 661.0l1.8 -0.6M827.8 660.2l2.0 -1.3M830.0 658.5l1.9 -1.2M832.4 657.0l1.6 -0.2M834.5 656.8l1.7 0.8M836.6 658.1l2.0 1.7M838.8 660.1l2.0 1.9M841.0 662.3l2.0 2.0M843.2 664.5l2.0 1.9M845.4 666.7l2.0 1.8M847.6 668.8l1.9 1.4M850.1 670.7l1.5 0.3M852.2 670.9l1.7 -0.9M854.2 669.4l2.0 -2.2M856.4 666.9l2.0 -2.7M858.6 663.7l2.0 -2.7M860.8 660.7l2.0 -2.3M863.0 658.2l2.0 -2.1M865.2 655.9l2.0 -2.0M867.4 653.6l2.0 -2.0M869.6 651.4l2.0 -1.9M871.8 649.3l2.0 -1.8M874.0 647.4l2.0 -1.7M876.2 645.5l2.0 -1.6M878.4 643.7l2.0 -1.6M880.6 641.9l2.0 -1.5M882.8 640.2l2.0 -1.4M885.0 638.6l2.0 -1.3M887.3 637.0l1.9 -0.8M889.7 636.0l1.4 0.2M891.7 636.5l1.9 1.5M893.8 638.5l2.0 2.3M896.0 641.3l2.0 2.1M898.3 643.8l1.8 1.1M900.4 644.8l2.0 0.5M902.6 645.3l2.0 0.3M904.8 645.6l2.0 0.5M907.1 646.0l1.8 1.1M909.2 647.4l1.9 2.2M911.4 650.3l2.0 2.5M913.7 653.3l1.9 1.6M915.8 655.0l1.9 0.8M918.0 655.8l2.0 0.5M920.2 656.4l2.0 0.5M922.4 656.9l2.0 0.5M924.6 657.4l2.0 0.7M926.8 658.2l1.9 1.3M929.0 659.8l2.0 1.7M931.2 661.8l2.0 1.7M933.4 663.8l1.9 1.1M935.7 665.1l1.8 0.4M937.8 665.4l2.0 -0.1M940.0 665.2l2.0 -0.3M942.2 664.9l2.0 -0.4M944.4 664.4l2.0 -0.6M946.6 663.7l2.0 -0.8M948.9 663.0l1.8 -1.5M951.0 661.2l1.9 -2.9M953.2 657.5l2.0 -4.0M955.4 652.8l2.0 -3.8M957.6 648.4l1.9 -2.8M959.8 645.4l2.0 -2.0M962.0 643.4l2.0 -1.6M964.2 641.6l2.0 -1.5M966.4 639.9l2.0 -1.5M968.6 638.3l2.0 -1.4M970.8 636.7l2.0 -1.4M973.0 635.2l2.0 -1.4M975.2 633.7l2.0 -1.4M977.4 632.1l2.0 -1.3M979.6 630.7l2.0 -1.2M981.8 629.4l2.0 -1.1M984.0 628.2l2.0 -1.1M986.2 627.0l2.0 -1.1M988.4 625.8l2.0 -1.1M990.6 624.6l2.0 -1.4M992.8 623.0l1.9 -2.0M995.0 620.5l2.0 -2.3M997.6 617.2l1.2 -0.6M999.7 616.6l1.3 0.9M1001.6 618.7l2.0 2.5M1004.1 622.2l1.4 1.0M1006.5 623.3l1.1 -0.6M1008.2 621.6l2.0 -2.6M1010.4 618.6l2.0 -2.8M1012.6 615.3l2.0 -2.5M1014.9 612.4l1.9 -1.6M1017.0 610.9l2.0 -1.0M1019.2 609.8l2.0 -0.7M1021.4 609.0l2.0 -0.6M1023.6 608.4l2.0 -0.3M1025.9 607.9l1.8 0.2M1028.1 608.2l1.9 0.9M1030.2 609.4l2.0 1.5M1032.4 611.1l2.0 1.7M1034.6 613.0l2.0 1.9M1036.8 615.2l2.0 2.1M1039.0 617.6l2.0 2.3M1041.2 620.1l2.0 2.5M1043.4 622.8l2.0 3.1M1045.6 625.8l1.9 5.1M1047.9 632.6l1.8 6.8M1050.1 641.1l1.8 6.8M1052.3 649.6l1.8 6.8M1054.4 657.7l2.0 6.1M1056.6 664.4l2.0 4.2M1058.8 668.7l2.0 3.2M1061.0 672.2l2.0 2.9M1063.2 675.4l2.0 2.7M1065.4 678.4l2.0 2.5M1067.6 681.3l2.0 2.2M1069.8 683.8l1.9 1.6M1072.5 685.9l1.1 0.1M1074.3 685.7l1.8 -1.5M1076.4 683.7l2.0 -2.5M1078.6 680.7l2.0 -2.7M1080.8 677.5l2.0 -2.3M1083.3 674.6l1.5 -0.7M1085.3 674.0l1.8 0.4M1087.4 674.6l2.0 1.0M1089.6 675.8l2.0 1.3M1091.8 677.3l2.0 1.4M1094.0 678.8l2.0 1.3M1096.2 680.3l2.0 1.2M1098.4 681.7l2.0 1.2M1100.6 683.0l2.0 1.2M1102.8 684.3l2.0 1.2M1105.0 685.7l2.0 1.2M1107.2 687.0l2.0 1.2M1109.4 688.3l2.0 1.1M1111.6 689.6l2.0 0.9M1113.8 690.6l1.9 0.5M1116.0 691.2l2.0 0.2M1118.2 691.4l2.0 -0.1M1120.4 691.3l1.9 -0.5M1122.6 690.7l1.9 -1.1M1124.8 689.3l2.0 -1.6M1127.0 687.4l2.0 -1.8M1129.2 685.4l2.0 -1.8M1131.4 683.3l2.0 -1.6M1133.6 681.6l2.0 -1.2M1135.8 680.4l2.0 -0.9M1138.0 679.3l2.0 -0.8M1140.2 678.4l2.0 -0.7M1142.4 677.6l2.0 -0.6M1144.6 676.9l2.0 -0.4M1146.9 676.4l1.7 0.3M1149.1 676.8l1.8 1.3M1151.2 678.6l2.0 2.2M1153.4 681.3l2.0 2.4M1155.6 684.1l1.9 1.9M1158.0 686.4l1.5 0.6M1160.1 686.9l1.7 -0.5M1162.2 686.1l2.0 -1.3M1164.4 684.6l2.0 -1.6M1166.6 682.8l2.0 -1.7M1168.8 680.9l2.0 -1.8M1171.0 679.0l2.0 -1.8M1173.2 677.0l2.0 -1.8M1175.4 675.0l2.0 -1.7M1177.6 673.2l2.0 -1.6M1179.8 671.4l2.0 -1.6M1182.0 669.5l2.0 -1.7M1184.2 667.7l2.0 -1.6M1186.4 665.9l2.0 -1.6M1188.6 664.1l2.0 -1.5M1190.8 662.4l2.0 -1.5M1193.0 660.7l2.0 -1.4M1195.2 659.1l2.0 -1.4M1197.4 657.6l2.0 -1.4M1199.6 656.0l2.0 -1.3M1201.8 654.6l2.0 -1.2M1204.0 653.2l2.0 -0.9M1206.2 652.3l2.0 -0.6M1208.4 651.7l2.0 -0.4M1210.6 651.3l2.0 -0.4M1212.8 650.8l2.0 -0.6M1215.1 650.3l1.8 -1.2M1217.2 648.7l2.0 -2.1M1219.4 646.0l2.0 -2.3M1221.7 643.3l1.9 -1.6M1223.8 641.7l1.9 -0.8M1226.0 640.9l2.0 -0.5M1228.2 640.3l2.0 -0.4M1230.4 639.9l2.0 -0.4M1232.6 639.5l2.0 -0.3M1234.8 639.2l2.0 -0.2M1237.0 638.9l1.9 0.1M1239.3 638.8l1.7 0.8M1241.4 639.9l1.9 1.9M1243.6 642.3l2.0 2.5M1245.8 645.1l2.0 2.5M1248.0 647.9l2.0 2.6M1250.2 650.8l2.0 2.6M1252.4 653.7l2.0 2.5M1254.6 656.6l2.0 2.4M1256.8 659.4l2.0 2.1M1259.3 662.1l1.4 0.6M1261.4 662.6l1.6 -0.8M1263.4 661.2l2.0 -2.0M1265.6 658.9l2.0 -2.1M1267.8 656.5l2.0 -2.0M1270.0 654.1l1.9 -1.5M1272.5 652.1l1.4 -0.2M1274.5 652.2l1.9 0.8M1276.6 653.3l2.0 1.3M1278.8 654.8l2.0 1.2M1281.1 656.3l1.7 0.4M1283.4 656.8l1.6 -0.7M1285.4 655.6l2.0 -1.9M1287.6 653.4l2.0 -2.3M1289.8 650.8l2.0 -2.4M1292.0 648.1l2.0 -2.4M1294.2 645.4l2.0 -2.3M1296.4 642.9l2.0 -2.3M1298.6 640.2l2.0 -2.4M1300.8 637.6l2.0 -2.3M1303.0 635.0l2.0 -2.2M1305.2 632.5l2.0 -2.0M1307.5 630.0l1.7 -1.1M1310.0 628.7l1.2 0.3M1311.8 629.6l1.9 1.9M1314.0 632.2l1.9 1.7M1316.8 634.6l0.8 0.0M1318.5 634.1l1.9 -1.6M1320.6 631.9l2.0 -2.3M1322.8 629.3l2.0 -2.3M1325.0 626.6l2.0 -1.9M1327.6 624.0l1.2 -0.4M1329.6 623.7l1.6 1.1M1331.6 625.6l2.0 2.7M1333.8 628.9l2.0 2.8M1336.1 632.3l1.9 1.9M1338.4 634.5l1.6 0.5M1340.4 634.7l1.9 -0.3M1342.6 634.3l2.0 -0.6M1344.8 633.7l2.0 -0.6M1347.0 632.9l2.0 -0.6M1349.2 632.3l1.9 -0.3M1351.4 632.0l2.0 0.1M1353.6 632.2l2.0 0.3M1355.8 632.5l2.0 0.3M1358.0 632.8l2.0 0.4M1360.2 633.3l2.0 0.5M1362.4 633.8l2.0 0.6M1364.6 634.4l1.9 0.9M1366.8 635.5l2.0 1.2M1369.0 637.0l2.0 1.4M1371.2 638.6l2.0 1.4M1373.4 640.2l2.0 1.3M1375.6 641.8l1.9 0.9M1377.8 642.8l2.0 0.5M1380.0 643.2l2.0 0.3M1382.2 643.5l2.0 0.3M1384.4 643.8l2.0 0.5M1386.7 644.2l1.9 1.0M1388.8 645.6l1.9 1.9M1391.0 647.8l2.0 2.4M1393.2 650.5l2.0 2.6M1395.4 653.4l2.0 2.7M1397.6 656.4l2.0 2.6M1399.8 659.3l2.0 2.6M1402.0 662.2l2.0 2.6M1404.2 665.2l2.0 2.7M1406.4 668.1l2.0 2.7M1408.6 671.1l2.0 2.6M1410.8 674.0l2.0 2.6M1413.0 677.0l2.0 2.5M1415.2 679.8l2.0 2.5M1417.4 682.5l2.0 2.5M1419.6 685.3l2.0 2.4M1421.8 688.0l2.0 2.3M1424.0 690.6l2.0 2.1M1426.2 693.1l2.0 1.7M1428.4 694.9l1.9 1.1M1430.6 696.0l2.0 0.8M1432.8 696.9l2.0 0.7M1435.0 697.6l2.0 0.7M1437.2 698.3l2.0 0.8M1439.4 699.1l1.9 1.3M1441.7 700.4l1.9 2.5M1443.8 703.6l2.0 4.0M1446.0 708.4l2.0 4.3M1448.2 713.4l2.0 3.6M1450.4 717.1l2.0 2.8M1452.6 720.2l2.0 2.6M1454.8 723.1l2.0 2.5M1457.0 725.9l2.0 2.3M1459.2 728.5l2.0 2.0M1461.4 730.8l1.9 1.4M1463.6 732.3l1.9 0.9M1465.8 733.2l2.0 0.6M1468.0 733.8l2.0 0.5M1470.2 734.3l2.0 0.4M1472.4 734.7l2.0 0.4M1474.6 735.2l2.0 0.5M1476.8 735.6l1.9 0.7M1479.1 736.3l1.8 1.5M1481.2 738.4l2.0 2.6M1483.4 741.8l1.9 2.3M1485.7 744.3l1.9 1.3M1487.8 745.5l2.0 0.8M1490.0 746.3l2.0 0.7M1492.2 747.1l2.0 0.7M1494.4 747.9l2.0 0.7M1496.6 748.7l2.0 0.8M1498.8 749.5l2.0 1.0M1501.0 750.6l1.9 1.6M1503.2 752.4l2.0 2.4M1505.4 755.3l2.0 3.0M1507.6 758.7l2.0 3.3M1509.8 762.5l2.0 3.3M1512.0 766.2l2.0 2.8M1514.2 769.2l2.0 2.3M1516.4 771.8l2.0 2.1M1518.6 774.1l2.0 2.0M1520.8 776.3l2.0 1.9M1523.0 778.4l2.0 1.7M1525.2 780.3l2.0 1.5M1527.4 782.0l2.0 1.3M1529.6 783.4l2.0 1.2M1531.8 784.7l2.0 1.2M1534.0 786.1l2.0 1.2M1536.2 787.4l2.0 1.3M1538.4 788.8l2.0 1.7M1540.6 790.8l2.0 2.2M1542.8 793.3l2.0 2.4M1545.0 796.1l2.0 2.4M1547.2 798.8l2.0 2.2M1549.4 801.4l1.9 1.7M1551.6 803.1l1.9 1.1M1553.8 804.2l2.0 0.8M1556.0 805.0l2.0 0.7M1558.2 805.8l2.0 0.6M1560.4 806.4l2.0 0.6M1562.6 807.1l2.0 0.6M1564.8 807.7l2.0 0.7M1567.0 808.5l2.0 0.9M1569.2 809.5l2.0 1.0M1571.4 810.7l2.0 1.1M1573.6 811.9l2.0 1.2M1575.8 813.3l2.0 1.3M1578.0 814.6l1.9 1.7M1580.2 816.6l2.0 2.3M1582.4 819.3l2.0 2.6M1584.6 822.3l2.0 2.3M1586.9 825.1l1.8 1.3M1589.0 826.4l1.9 0.5M1591.2 826.9l2.0 0.2M1593.4 827.0l2.0 0.0M1595.6 827.0l2.0 -0.1M1597.8 826.9l2.0 -0.2M1600.0 826.7l2.0 -0.3M1602.2 826.4l2.0 -0.5M1604.4 825.8l2.0 -0.7M1606.6 825.0l2.0 -0.8M1608.8 824.1l2.0 -0.9M1611.0 823.1l2.0 -0.9M1613.2 822.1l2.0 -0.9M1615.4 821.1l2.0 -0.9M1617.6 820.1l2.0 -0.8M1619.8 819.2l2.0 -0.8M1622.5 818.0l1.0 -0.4" stroke="#06964a" stroke-width="5.8" stroke-linecap="round"/>
<path d="M314.0 1121.0C315.0 1120.1 320.1 1115.2 322.0 1113.5C323.9 1111.8 328.2 1108.2 330.0 1106.5C331.8 1104.8 335.2 1101.0 337.0 1099.0C338.8 1097.0 343.2 1091.9 345.0 1089.5C346.8 1087.1 350.4 1081.5 352.0 1079.0C353.6 1076.5 356.4 1072.1 358.3 1069.0C360.2 1065.9 365.4 1057.6 368.0 1053.0C370.6 1048.4 377.7 1035.6 380.0 1030.8C382.3 1026.0 385.3 1018.2 387.0 1013.3C388.7 1008.4 392.0 998.0 394.0 990.0C396.0 982.0 401.2 956.7 403.3 946.6C405.4 936.5 409.5 915.6 411.5 905.8C413.5 896.0 417.8 874.1 419.6 865.0C421.4 855.9 425.2 838.6 426.6 830.0C428.0 821.4 429.4 807.2 431.0 793.0C432.6 778.8 437.7 731.1 439.9 711.5C442.1 691.9 447.3 645.8 449.2 630.0C451.1 614.2 454.6 593.6 456.0 580.0C457.4 566.4 459.5 532.4 460.8 516.4C462.1 500.4 465.3 461.6 466.7 446.5C468.1 431.4 471.0 401.1 472.5 390.5C474.0 379.9 477.8 365.2 479.5 357.9C481.2 350.6 484.8 337.4 486.5 329.9C488.2 322.4 491.8 296.1 493.5 295.0C495.2 293.9 499.2 313.9 500.5 320.6C501.8 327.3 502.3 345.0 504.0 350.9C505.7 356.8 512.4 368.2 514.5 369.6C516.6 371.0 519.9 364.8 521.4 362.6C522.9 360.4 525.9 351.2 527.3 350.9C528.7 350.6 531.6 358.3 533.0 360.0C534.4 361.7 537.7 361.2 539.0 364.9C540.3 368.6 541.7 385.5 543.6 390.5C545.5 395.5 552.7 406.3 555.2 406.9C557.7 407.5 562.8 395.5 564.6 395.2C566.4 394.9 569.2 401.4 570.4 404.5C571.6 407.6 572.8 419.4 575.0 420.8C577.2 422.2 586.3 415.9 589.0 416.2C591.7 416.5 595.7 420.8 597.2 423.2C598.7 425.6 600.1 434.6 601.9 436.0C603.7 437.4 609.5 436.6 612.4 434.8C615.3 433.0 623.2 422.1 626.3 420.8C629.4 419.5 635.8 422.3 638.0 424.3C640.2 426.3 642.5 432.9 645.0 437.2C647.5 441.5 656.2 455.6 659.0 460.5C661.8 465.4 665.5 474.5 668.3 478.0C671.1 481.5 679.5 487.0 682.3 489.6C685.1 492.2 689.2 498.9 691.7 499.8C694.2 500.7 700.5 496.8 703.3 497.5C706.1 498.2 711.9 504.6 715.0 505.6C718.1 506.6 725.6 505.0 729.0 505.6C732.4 506.2 740.5 508.1 743.0 510.3C745.5 512.5 747.2 521.2 750.0 524.3C752.8 527.4 762.6 534.5 766.2 536.0C769.8 537.5 777.7 536.0 780.2 537.0C782.7 538.0 785.2 541.3 787.2 544.0C789.2 546.7 793.8 556.2 796.6 559.3C799.4 562.4 807.4 567.7 810.5 569.7C813.6 571.7 819.4 575.2 822.2 575.6C825.0 576.0 831.3 572.7 833.8 573.0C836.3 573.3 840.8 578.2 843.0 578.0C845.2 577.8 850.5 572.4 852.5 571.0C854.5 569.6 857.5 565.4 859.5 566.0C861.5 566.6 866.8 574.6 868.8 575.6C870.8 576.6 873.9 575.4 875.8 574.4C877.7 573.4 882.8 566.8 885.0 567.4C887.2 568.0 891.9 576.6 894.4 579.0C896.9 581.4 904.2 583.2 906.0 587.0C907.8 590.8 908.5 606.1 909.6 610.5C910.7 614.9 913.3 621.2 915.4 623.4C917.5 625.6 924.5 626.9 927.0 629.0C929.5 631.1 933.9 637.4 936.4 640.8C938.9 644.2 945.2 654.9 948.0 657.0C950.8 659.1 956.6 658.1 959.7 658.3C962.8 658.5 970.9 657.6 973.7 658.3C976.5 659.0 980.5 661.6 983.0 664.0C985.5 666.4 991.9 674.8 994.7 678.0C997.5 681.2 1003.5 688.5 1006.3 691.0C1009.1 693.5 1014.4 696.8 1018.0 699.0C1021.6 701.2 1032.4 707.5 1036.6 709.6C1040.8 711.7 1050.2 716.1 1053.0 716.6C1055.8 717.1 1058.0 714.8 1060.0 713.8C1062.0 712.8 1067.2 708.3 1069.3 708.0C1071.4 707.7 1075.5 711.6 1077.5 711.5C1079.5 711.4 1083.2 707.2 1085.6 706.9C1088.0 706.6 1094.8 707.9 1097.3 709.0C1099.8 710.1 1102.7 715.0 1106.6 716.0C1110.5 717.0 1124.4 716.6 1130.0 717.3C1135.6 718.0 1146.9 721.6 1153.0 722.0C1159.1 722.4 1177.3 718.7 1181.0 720.8C1183.5 722.9 1182.4 736.6 1183.5 739.5C1184.6 742.4 1187.1 745.2 1190.5 745.3C1193.9 745.4 1206.5 741.9 1211.5 740.6C1216.5 739.3 1228.3 735.5 1232.5 734.8C1236.7 734.1 1243.3 735.2 1246.5 734.8C1249.7 734.4 1256.5 731.2 1259.3 731.3C1262.1 731.4 1266.6 735.3 1269.8 736.0C1273.0 736.7 1282.9 736.2 1286.0 737.0C1289.1 737.8 1292.9 742.3 1295.4 743.0C1297.9 743.7 1303.9 742.3 1307.0 743.0C1310.1 743.7 1318.2 746.8 1321.0 748.8C1323.8 750.8 1327.9 756.2 1330.4 759.3C1332.9 762.4 1339.0 771.7 1342.0 774.5C1345.0 777.3 1352.0 781.0 1355.6 783.0C1359.2 785.0 1368.1 789.2 1372.0 791.3C1375.9 793.4 1384.4 799.6 1388.3 800.6C1392.2 801.6 1400.7 799.1 1404.6 799.5C1408.5 799.9 1417.6 804.3 1421.0 804.0C1424.4 803.7 1430.1 799.5 1432.6 797.0C1435.1 794.5 1439.2 785.2 1441.9 783.0C1444.6 780.8 1451.6 777.8 1454.7 778.5C1457.8 779.2 1464.6 787.9 1467.5 789.0C1470.4 790.1 1476.1 786.7 1479.2 787.8C1482.3 788.9 1489.4 797.6 1493.0 798.3C1496.6 799.0 1504.5 794.4 1509.5 793.7C1514.5 793.0 1529.7 793.2 1535.0 792.5C1540.3 791.8 1549.3 788.9 1553.8 787.8C1558.3 786.7 1568.8 783.1 1572.4 783.0C1576.0 782.9 1581.5 786.1 1584.0 786.7C1586.5 787.3 1591.3 787.1 1593.4 787.8C1595.5 788.5 1598.7 793.1 1601.5 792.5C1604.3 791.9 1613.9 783.4 1616.7 783.0C1619.5 782.6 1623.9 788.3 1624.9 789.0" stroke="#ff2c2c" stroke-width="4.5"/>
<path d="M313.5 1121.5l1.0 -1.0M315.3 1119.8l2.1 -2.0M317.6 1117.6l2.1 -1.9M319.9 1115.5l2.1 -1.9M322.2 1113.4l2.1 -1.8M324.5 1111.4l2.1 -1.8M326.8 1109.4l2.1 -1.8M329.1 1107.4l2.1 -2.0M331.4 1105.1l2.1 -2.2M333.7 1102.7l2.1 -2.3M336.0 1100.2l2.1 -2.3M338.3 1097.6l2.1 -2.4M340.6 1094.9l2.1 -2.5M342.9 1092.2l2.1 -2.6M345.2 1089.3l2.1 -2.9M347.5 1086.0l2.1 -3.1M349.8 1082.5l2.1 -3.2M352.1 1078.9l2.1 -3.2M354.4 1075.3l2.1 -3.3M356.7 1071.6l2.1 -3.3M359.0 1067.9l2.1 -3.4M361.3 1064.2l2.1 -3.4M363.6 1060.5l2.1 -3.4M365.9 1056.7l2.1 -3.5M368.2 1052.7l2.1 -3.7M370.5 1048.6l2.1 -3.7M372.8 1044.5l2.1 -3.8M375.1 1040.2l2.1 -3.9M377.4 1036.0l2.1 -4.1M379.7 1031.6l2.1 -4.5M382.0 1026.4l2.1 -5.1M384.3 1020.8l2.1 -5.6M386.6 1014.6l2.1 -6.1M388.9 1007.7l2.1 -6.7M391.3 1000.1l1.9 -6.7M393.7 991.3l1.6 -6.8M396.1 980.9l1.5 -6.8M398.4 970.1l1.4 -6.8M400.7 959.2l1.4 -6.9M403.0 948.1l1.4 -6.9M405.3 936.8l1.4 -6.9M407.6 925.3l1.4 -6.9M409.9 913.7l1.4 -6.9M412.2 902.2l1.4 -6.9M414.5 890.6l1.4 -6.9M416.8 879.0l1.4 -6.9M419.1 867.4l1.4 -6.9M421.4 856.4l1.4 -6.9M423.7 845.2l1.3 -6.9M426.2 832.8l1.0 -6.9M428.6 814.5l0.8 -7.0M430.9 793.8l0.8 -7.0M433.2 772.7l0.8 -7.0M435.5 751.6l0.8 -7.0M437.8 730.4l0.8 -7.0M440.1 709.6l0.8 -7.0M442.4 689.1l0.8 -7.0M444.7 668.8l0.8 -7.0M447.0 648.7l0.8 -7.0M449.3 629.6l0.9 -6.9M451.5 613.2l1.0 -6.9M453.9 597.2l0.9 -6.9M456.3 576.9l0.6 -7.0M458.6 546.1l0.5 -7.0M460.9 514.9l0.5 -7.0M463.2 487.1l0.6 -7.0M465.5 460.0l0.6 -7.0M467.8 435.1l0.7 -7.0M470.0 412.0l0.8 -7.0M472.2 392.7l1.0 -6.9M474.3 380.6l1.4 -6.8M476.5 370.6l1.6 -6.8M478.8 360.9l1.7 -6.8M481.0 351.7l1.7 -6.8M483.3 342.7l1.7 -6.8M485.8 333.3l1.4 -6.8M488.2 320.5l1.2 -6.9M490.4 307.4l1.4 -6.8M493.4 295.2l0.0 -0.0M494.7 296.5l2.0 5.8M497.2 305.1l1.6 6.8M499.8 316.1l1.0 6.9M502.1 338.1l0.9 6.9M504.0 350.2l1.8 6.6M506.2 356.3l2.1 4.1M508.5 360.8l2.1 3.5M510.8 364.8l2.1 3.0M513.4 368.8l1.3 0.9M515.7 369.6l1.4 -0.7M517.7 368.1l2.0 -2.7M520.0 365.0l2.1 -3.6M522.3 360.9l2.1 -4.4M524.6 354.9l1.9 -3.1M527.9 351.2l0.0 0.0M529.2 353.0l2.1 3.6M531.5 357.9l1.9 2.6M533.8 360.5l2.0 1.3M536.2 361.3l1.7 2.0M538.6 363.3l1.5 6.4M541.1 378.2l1.3 6.9M543.0 388.3l2.0 6.2M545.3 394.0l2.1 3.6M547.6 397.9l2.1 3.1M549.9 401.4l2.1 2.7M552.2 404.6l2.0 1.7M555.2 406.9l0.7 -0.1M556.8 406.1l2.0 -2.3M559.1 403.1l2.1 -3.2M561.4 399.1l2.0 -2.8M564.7 395.2l0.0 -0.0M566.0 396.0l1.9 2.8M568.3 399.2l2.0 5.4M570.7 406.1l1.8 6.8M573.1 417.1l1.6 4.1M575.6 420.8l1.2 0.3M577.5 420.7l2.0 -0.7M579.8 419.9l2.1 -0.9M582.1 418.8l2.1 -1.0M584.4 417.7l2.1 -0.9M586.7 416.6l1.9 -0.3M589.1 416.2l1.8 0.6M591.3 417.1l2.0 1.6M593.6 418.9l2.1 2.2M595.9 420.8l2.0 3.8M598.2 426.2l2.1 5.7M600.8 434.3l1.5 2.4M602.9 436.4l1.9 0.5M605.1 436.7l2.0 -0.1M607.4 436.5l2.0 -0.5M609.7 436.1l2.0 -0.9M612.0 435.1l2.0 -1.5M614.3 433.2l2.1 -2.2M616.6 430.7l2.1 -2.3M618.9 428.1l2.1 -2.3M621.2 425.4l2.1 -2.2M623.5 422.9l2.0 -1.6M625.9 421.0l1.8 -0.6M628.1 420.5l2.0 0.1M630.4 420.7l2.0 0.6M632.7 421.4l2.1 0.9M635.0 422.3l2.0 1.2M637.3 423.5l1.9 2.2M639.6 426.3l2.1 3.8M641.9 431.0l2.1 4.2M644.2 435.7l2.1 3.7M646.5 439.7l2.1 3.4M648.8 443.5l2.1 3.4M651.1 447.3l2.1 3.4M653.4 451.1l2.1 3.4M655.7 454.9l2.1 3.5M658.0 458.6l2.1 3.7M660.3 462.9l2.1 4.1M662.6 467.6l2.1 4.2M664.9 472.3l2.1 3.7M667.2 476.5l2.0 2.7M669.5 479.3l2.1 1.9M671.8 481.3l2.1 1.7M674.1 483.2l2.1 1.6M676.4 484.9l2.1 1.6M678.7 486.7l2.1 1.6M681.0 488.4l2.1 1.9M683.3 490.6l2.1 2.4M685.6 493.4l2.1 2.5M687.9 496.4l2.0 2.2M690.3 499.1l1.7 0.9M692.5 499.9l1.9 -0.1M694.8 499.6l2.1 -0.6M697.1 498.8l2.1 -0.7M699.4 498.0l2.0 -0.5M701.8 497.3l1.8 0.2M704.0 497.8l2.0 1.1M706.3 499.2l2.1 1.6M708.6 501.1l2.1 1.7M710.9 503.0l2.1 1.5M713.2 504.8l2.0 0.9M715.5 505.7l2.0 0.3M717.8 505.9l2.1 -0.0M720.1 505.9l2.1 -0.1M722.4 505.7l2.1 -0.1M724.7 505.5l2.1 -0.1M727.0 505.4l2.0 0.1M729.3 505.7l2.1 0.4M731.6 506.1l2.1 0.5M733.9 506.6l2.1 0.6M736.2 507.3l2.1 0.7M738.5 508.0l2.1 0.8M740.8 508.8l2.0 1.4M743.1 510.2l1.9 3.1M745.4 514.6l2.1 4.8M747.7 520.5l2.0 3.6M750.0 524.2l2.0 2.2M752.3 526.4l2.1 1.7M754.6 528.3l2.1 1.6M756.9 530.1l2.1 1.5M759.2 531.7l2.1 1.4M761.5 533.3l2.1 1.3M763.8 534.8l2.1 1.0M766.1 536.0l2.0 0.6M768.4 536.5l2.1 0.2M770.7 536.7l2.1 0.0M773.0 536.7l2.1 -0.0M775.3 536.7l2.1 0.0M777.6 536.6l2.0 0.3M779.9 536.8l1.9 1.0M782.2 538.1l2.0 2.0M784.5 540.5l2.1 2.6M786.8 543.3l2.1 3.2M789.1 547.0l2.1 3.6M791.4 551.1l2.1 3.5M793.7 555.2l2.1 3.0M796.0 558.6l2.0 2.2M798.3 560.9l2.1 1.7M800.6 562.8l2.1 1.6M802.9 564.5l2.1 1.5M805.2 566.1l2.1 1.4M807.5 567.7l2.1 1.4M809.8 569.2l2.1 1.3M812.1 570.7l2.1 1.2M814.4 572.1l2.1 1.2M816.7 573.4l2.1 1.0M819.0 574.6l2.0 0.8M821.3 575.5l1.9 0.2M823.6 575.6l2.0 -0.4M825.9 575.0l2.1 -0.6M828.2 574.3l2.1 -0.6M830.5 573.5l2.0 -0.4M832.9 572.9l1.8 0.3M835.1 573.4l2.0 1.2M837.4 574.9l2.1 1.4M839.7 576.7l2.0 1.0M842.3 578.0l1.5 -0.1M844.3 577.5l2.0 -1.3M846.6 576.0l2.1 -1.7M848.9 574.1l2.1 -1.8M851.2 572.1l2.1 -1.8M853.5 570.1l2.1 -1.9M855.8 567.8l2.0 -1.4M858.6 565.9l1.1 0.1M860.4 566.6l2.0 1.8M862.7 568.9l2.1 2.4M865.0 571.7l2.1 2.3M867.4 574.6l1.8 1.2M869.7 575.9l1.8 0.1M871.9 575.9l2.0 -0.6M874.2 575.2l2.0 -1.1M876.5 573.9l2.0 -1.7M878.8 571.8l2.1 -1.9M881.1 569.5l2.0 -1.5M883.9 567.4l1.1 -0.0M885.7 567.8l1.9 1.8M888.0 570.3l2.1 2.8M890.3 573.6l2.1 2.9M892.6 577.0l2.0 2.2M894.9 579.4l2.0 1.4M897.2 580.8l2.1 1.1M899.5 581.9l2.1 1.1M901.8 583.1l2.0 1.4M904.2 584.0l1.7 3.5M906.8 589.8l1.2 6.8M909.1 607.5l1.3 6.7M911.0 615.0l2.1 4.9M913.3 620.4l2.0 3.0M915.6 623.6l1.9 1.5M917.9 625.0l2.1 0.9M920.2 625.9l2.1 0.8M922.5 626.8l2.1 0.9M924.8 627.6l2.0 1.3M927.1 629.1l2.0 2.0M929.4 631.5l2.1 2.6M931.7 634.4l2.1 2.8M934.0 637.5l2.1 2.8M936.3 640.6l2.1 3.0M938.6 644.0l2.1 3.2M940.9 647.5l2.1 3.1M943.2 651.0l2.1 2.9M945.5 654.4l2.0 2.2M947.9 656.9l1.9 1.1M950.1 658.0l2.0 0.4M952.4 658.3l2.1 0.1M954.7 658.4l2.1 -0.0M957.0 658.3l2.1 -0.0M959.3 658.3l2.1 -0.0M961.6 658.3l2.1 -0.1M963.9 658.2l2.1 -0.1M966.2 658.1l2.1 -0.1M968.5 658.0l2.1 -0.0M970.8 658.0l2.1 0.2M973.1 658.1l2.0 0.6M975.4 658.9l2.1 1.0M977.7 660.0l2.1 1.3M980.0 661.5l2.1 1.6M982.3 663.3l2.1 2.0M984.6 665.7l2.1 2.4M986.9 668.4l2.1 2.5M989.2 671.2l2.1 2.6M991.5 674.1l2.1 2.5M993.8 676.9l2.1 2.5M996.1 679.6l2.1 2.4M998.4 682.3l2.1 2.4M1000.7 685.0l2.1 2.3M1003.0 687.6l2.1 2.2M1005.3 690.1l2.1 1.9M1007.6 692.1l2.1 1.6M1009.9 693.8l2.1 1.4M1012.2 695.3l2.1 1.3M1014.5 696.8l2.1 1.3M1016.8 698.2l2.1 1.3M1019.1 699.6l2.1 1.2M1021.4 701.0l2.1 1.2M1023.7 702.4l2.1 1.2M1026.0 703.7l2.1 1.2M1028.3 705.0l2.1 1.2M1030.6 706.3l2.1 1.2M1032.9 707.6l2.1 1.1M1035.2 708.9l2.1 1.1M1037.5 710.0l2.1 1.0M1039.8 711.1l2.1 1.0M1042.1 712.2l2.1 0.9M1044.4 713.3l2.1 0.9M1046.7 714.3l2.1 0.9M1049.0 715.3l2.1 0.8M1051.3 716.2l2.0 0.4M1053.7 716.7l1.9 -0.3M1055.9 716.2l2.0 -1.0M1058.2 714.9l2.1 -1.3M1060.5 713.5l2.1 -1.4M1062.8 711.9l2.1 -1.5M1065.1 710.2l2.1 -1.3M1067.5 708.6l1.8 -0.5M1069.8 708.0l1.8 0.5M1072.0 708.9l2.1 1.1M1074.3 710.3l2.0 0.9M1076.8 711.5l1.5 -0.1M1078.9 711.0l2.0 -1.2M1081.2 709.4l2.1 -1.4M1083.5 707.6l1.9 -0.8M1085.8 706.9l2.0 -0.1M1088.1 706.9l2.1 0.3M1090.4 707.2l2.1 0.4M1092.7 707.7l2.1 0.5M1095.0 708.2l2.0 0.8M1097.3 708.9l2.0 1.4M1099.6 710.8l2.1 1.9M1101.9 713.1l2.0 1.7M1104.2 715.0l2.0 1.0M1106.5 715.9l2.0 0.4M1108.8 716.3l2.1 0.2M1111.1 716.5l2.1 0.1M1113.4 716.6l2.1 0.1M1115.7 716.7l2.1 0.1M1118.0 716.8l2.1 0.1M1120.3 716.8l2.1 0.1M1122.6 716.9l2.1 0.1M1124.9 716.9l2.1 0.1M1127.2 717.0l2.1 0.2M1129.5 717.2l2.1 0.3M1131.8 717.6l2.1 0.4M1134.1 718.1l2.1 0.5M1136.4 718.6l2.1 0.5M1138.7 719.1l2.1 0.5M1141.0 719.7l2.1 0.5M1143.3 720.2l2.1 0.5M1145.6 720.8l2.1 0.4M1147.9 721.3l2.1 0.4M1150.2 721.7l2.1 0.3M1152.5 722.0l2.1 0.1M1154.8 722.0l2.1 -0.1M1157.1 721.9l2.1 -0.2M1159.4 721.7l2.1 -0.2M1161.7 721.5l2.1 -0.2M1164.0 721.2l2.1 -0.2M1166.3 720.9l2.1 -0.2M1168.6 720.7l2.1 -0.2M1170.9 720.5l2.1 -0.2M1173.2 720.3l2.1 -0.1M1175.5 720.2l2.1 0.0M1177.8 720.1l2.0 0.3M1180.8 719.6l0.7 2.7M1182.7 735.9l1.3 6.3M1184.7 741.8l1.9 2.3M1187.0 744.2l1.9 1.0M1189.3 745.2l2.0 0.2M1191.6 745.2l2.1 -0.3M1193.9 744.9l2.1 -0.4M1196.2 744.5l2.1 -0.5M1198.5 743.9l2.1 -0.5M1200.8 743.4l2.1 -0.5M1203.1 742.8l2.1 -0.5M1205.4 742.2l2.1 -0.5M1207.7 741.6l2.1 -0.5M1210.0 741.0l2.1 -0.5M1212.3 740.4l2.1 -0.6M1214.6 739.8l2.1 -0.6M1216.9 739.1l2.1 -0.6M1219.2 738.4l2.1 -0.6M1221.5 737.7l2.1 -0.6M1223.8 737.1l2.1 -0.6M1226.1 736.4l2.1 -0.6M1228.4 735.8l2.1 -0.5M1230.7 735.2l2.1 -0.4M1233.0 734.7l2.1 -0.2M1235.3 734.6l2.1 0.0M1237.6 734.6l2.1 0.1M1239.9 734.7l2.1 0.1M1242.2 734.8l2.1 0.1M1244.5 735.0l2.0 -0.1M1246.8 734.8l2.0 -0.5M1249.1 734.2l2.1 -0.7M1251.4 733.4l2.1 -0.7M1253.7 732.6l2.1 -0.6M1256.0 731.8l2.0 -0.4M1258.4 731.2l1.9 0.1M1260.6 731.6l2.0 0.8M1262.9 732.6l2.1 1.1M1265.2 733.9l2.1 1.1M1267.5 735.2l2.0 0.7M1269.8 736.0l2.0 0.3M1272.1 736.3l2.1 0.1M1274.4 736.4l2.1 0.1M1276.7 736.4l2.1 0.0M1279.0 736.5l2.1 0.1M1281.3 736.5l2.1 0.1M1283.6 736.6l2.0 0.3M1285.9 736.9l2.0 0.9M1288.2 738.0l2.1 1.4M1290.5 739.7l2.1 1.6M1292.8 741.6l2.0 1.1M1295.1 742.9l1.9 0.4M1297.4 743.2l2.1 -0.0M1299.7 743.1l2.1 -0.1M1302.0 742.9l2.1 -0.1M1304.3 742.8l2.0 0.1M1306.6 742.9l2.0 0.5M1308.9 743.5l2.1 0.7M1311.2 744.3l2.1 0.8M1313.5 745.2l2.1 0.9M1315.8 746.1l2.1 0.9M1318.1 747.1l2.1 1.1M1320.4 748.3l2.0 1.6M1322.7 750.2l2.1 2.1M1325.0 752.6l2.1 2.4M1327.3 755.4l2.1 2.6M1329.6 758.2l2.1 2.7M1331.9 761.2l2.1 2.8M1334.2 764.4l2.1 2.9M1336.5 767.6l2.1 2.8M1338.8 770.8l2.1 2.5M1341.1 773.6l2.0 1.9M1343.4 775.7l2.1 1.5M1345.7 777.3l2.1 1.3M1348.0 778.7l2.1 1.2M1350.3 780.0l2.1 1.2M1352.6 781.3l2.1 1.1M1354.9 782.6l2.1 1.1M1357.2 783.8l2.1 1.1M1359.5 785.0l2.1 1.0M1361.8 786.2l2.1 1.0M1364.1 787.3l2.1 1.0M1366.4 788.4l2.1 1.0M1368.7 789.6l2.1 1.1M1371.0 790.7l2.1 1.1M1373.3 792.0l2.1 1.3M1375.6 793.5l2.1 1.3M1377.9 794.9l2.1 1.3M1380.2 796.4l2.1 1.3M1382.5 797.8l2.1 1.2M1384.8 799.1l2.1 1.0M1387.1 800.3l2.0 0.5M1389.4 800.8l2.0 0.1M1391.7 800.8l2.1 -0.2M1394.0 800.6l2.1 -0.3M1396.3 800.3l2.1 -0.3M1398.6 799.9l2.1 -0.3M1400.9 799.6l2.1 -0.1M1403.2 799.4l2.0 0.2M1405.5 799.6l2.1 0.5M1407.8 800.2l2.1 0.7M1410.1 801.0l2.1 0.7M1412.4 801.8l2.1 0.7M1414.7 802.6l2.1 0.6M1417.0 803.3l2.1 0.5M1419.3 804.0l2.0 0.0M1421.6 803.9l2.0 -0.6M1423.9 803.1l2.1 -1.0M1426.2 801.9l2.1 -1.3M1428.5 800.4l2.1 -1.6M1430.8 798.8l2.0 -2.0M1433.1 796.5l2.0 -2.9M1435.4 793.0l2.1 -3.5M1437.7 789.0l2.1 -3.3M1440.0 785.1l2.0 -2.3M1442.3 782.7l2.0 -1.4M1444.6 781.3l2.1 -1.0M1446.9 780.1l2.1 -0.8M1449.2 779.3l2.1 -0.6M1451.5 778.6l2.0 -0.2M1453.9 778.3l1.8 0.6M1456.1 779.2l2.0 1.5M1458.4 781.0l2.1 1.9M1460.7 783.1l2.1 2.0M1463.0 785.4l2.1 1.9M1465.3 787.7l2.0 1.2M1467.7 789.1l1.8 0.3M1469.9 789.2l2.0 -0.3M1472.2 788.7l2.1 -0.5M1474.5 788.0l2.1 -0.4M1476.8 787.5l1.9 0.2M1479.1 787.8l1.9 1.0M1481.4 789.2l2.1 1.7M1483.7 791.2l2.1 1.9M1486.0 793.3l2.1 1.8M1488.3 795.4l2.1 1.6M1490.6 797.3l2.0 0.9M1492.9 798.3l1.9 0.1M1495.2 798.2l2.0 -0.5M1497.5 797.7l2.1 -0.7M1499.8 796.9l2.1 -0.8M1502.1 796.0l2.1 -0.8M1504.4 795.1l2.1 -0.7M1506.7 794.3l2.1 -0.5M1509.0 793.8l2.1 -0.3M1511.3 793.5l2.1 -0.1M1513.6 793.4l2.1 -0.1M1515.9 793.3l2.1 -0.1M1518.2 793.2l2.1 -0.1M1520.5 793.1l2.1 -0.1M1522.8 793.1l2.1 -0.1M1525.1 793.0l2.1 -0.1M1527.4 793.0l2.1 -0.1M1529.7 792.9l2.1 -0.1M1532.0 792.8l2.1 -0.2M1534.3 792.6l2.1 -0.3M1536.6 792.2l2.1 -0.4M1538.9 791.8l2.1 -0.5M1541.2 791.2l2.1 -0.5M1543.5 790.6l2.1 -0.6M1545.8 790.0l2.1 -0.6M1548.1 789.4l2.1 -0.6M1550.4 788.7l2.1 -0.6M1552.7 788.1l2.1 -0.6M1555.0 787.5l2.1 -0.6M1557.3 786.8l2.1 -0.6M1559.6 786.1l2.1 -0.6M1561.9 785.5l2.1 -0.6M1564.2 784.8l2.1 -0.6M1566.5 784.2l2.1 -0.5M1568.8 783.6l2.1 -0.4M1571.1 783.1l2.0 -0.1M1573.4 783.0l2.0 0.4M1575.7 783.5l2.1 0.7M1578.0 784.3l2.1 0.8M1580.3 785.3l2.1 0.8M1582.6 786.3l2.0 0.6M1584.9 786.9l2.1 0.3M1587.2 787.1l2.1 0.2M1589.5 787.2l2.1 0.2M1591.8 787.3l1.9 0.7M1594.1 788.2l2.0 1.4M1596.4 790.0l2.1 1.5M1598.8 792.0l1.8 0.6M1601.1 792.5l1.8 -0.5M1603.3 791.7l2.1 -1.3M1605.6 790.2l2.1 -1.5M1607.9 788.6l2.1 -1.5M1610.2 786.9l2.1 -1.4M1612.5 785.3l2.1 -1.3M1614.9 783.6l1.8 -0.6M1617.2 783.0l1.7 0.5M1619.4 783.9l2.0 1.6M1622.2 786.3l1.0 1.0" stroke="#ff2c2c" stroke-width="5.5" stroke-linecap="round"/>
<path d="M314.0 1121.0C318.3 1120.5 342.1 1117.7 350.0 1116.5C357.9 1115.3 370.8 1113.0 380.0 1111.0C389.2 1109.0 418.2 1101.7 426.6 1099.6C435.0 1097.5 444.4 1095.2 450.0 1093.7C455.6 1092.2 467.6 1088.5 473.2 1086.7C478.8 1084.9 490.9 1080.8 496.5 1078.6C502.1 1076.4 514.3 1070.7 519.9 1068.0C525.5 1065.3 538.4 1058.8 543.2 1056.0C548.0 1053.2 556.5 1047.2 560.0 1044.5C563.5 1041.8 569.2 1036.1 572.0 1033.5C574.8 1030.9 580.5 1025.6 583.3 1023.0C586.1 1020.4 592.2 1014.6 595.0 1011.5C597.8 1008.4 604.8 1000.1 606.6 997.5C608.4 994.9 608.0 993.3 610.1 990.0C612.2 986.7 621.0 975.1 624.1 969.9C627.2 964.7 633.3 952.2 635.8 946.6C638.3 941.0 642.9 928.5 645.0 923.2C647.1 917.9 651.2 907.2 653.2 902.3C655.2 897.4 659.7 886.6 661.4 882.4C663.1 878.2 665.8 871.2 667.2 867.3C668.6 863.4 671.4 854.3 673.0 849.8C674.6 845.3 678.7 836.9 680.8 830.0C682.9 823.1 688.0 801.1 690.1 792.4C692.2 783.7 696.3 765.8 698.3 757.4C700.3 749.0 704.6 730.1 706.4 722.4C708.2 714.7 711.6 699.6 713.4 693.3C715.2 687.0 719.3 676.6 721.0 670.0C722.7 663.4 725.9 646.2 727.4 638.2C728.9 630.2 731.8 610.9 733.2 603.2C734.6 595.5 737.6 580.8 739.0 574.1C740.4 567.4 743.5 553.2 744.9 547.3C746.3 541.4 749.3 529.7 750.7 525.2C752.1 520.7 755.5 513.0 756.5 510.0C757.5 507.0 757.8 506.0 759.0 500.0C760.2 494.0 764.5 468.7 766.2 459.7C767.9 450.7 771.5 432.1 773.2 424.8C774.9 417.5 778.0 406.0 780.2 399.0C782.4 392.0 788.8 373.8 791.9 366.5C795.0 359.2 803.1 344.1 805.9 338.5C808.7 332.9 812.8 323.1 815.2 319.9C817.6 316.7 823.5 314.5 825.7 311.7C827.9 308.9 831.0 300.2 833.8 296.6C836.6 293.0 846.1 282.8 849.0 281.4C851.9 280.0 854.5 287.6 858.3 284.9C862.1 282.2 875.6 266.3 880.5 259.3C885.4 252.3 895.5 231.8 899.0 226.6C902.5 221.4 907.3 216.8 909.6 216.0C911.9 215.2 915.7 219.6 917.8 219.6C919.9 219.6 925.3 215.2 927.0 216.0C928.7 216.8 930.4 223.0 931.7 226.6C933.0 230.2 935.6 243.6 937.6 246.4C939.6 249.2 946.0 248.2 948.0 250.0C950.0 251.8 952.5 256.0 953.9 261.6C955.3 267.2 958.2 289.9 959.7 296.6C961.2 303.3 964.9 313.0 966.7 317.5C968.5 322.0 973.4 329.7 974.9 333.8C976.4 337.9 978.0 349.5 979.5 351.3C981.0 353.1 984.5 347.9 987.7 349.0C990.9 350.1 1002.1 357.7 1006.3 360.6C1010.5 363.5 1019.9 369.6 1022.6 373.5C1025.3 377.4 1025.4 392.5 1028.5 393.3C1031.6 394.1 1043.8 385.2 1048.3 380.5C1052.8 375.8 1063.0 356.2 1065.8 354.0C1068.6 351.8 1070.2 359.1 1071.7 362.0C1073.2 364.9 1075.9 375.1 1078.6 378.5C1081.3 381.9 1090.4 389.5 1093.8 390.0C1097.2 390.5 1103.9 384.7 1106.6 383.0C1109.3 381.3 1113.5 379.4 1116.0 376.0C1118.5 372.6 1124.7 358.6 1127.6 355.0C1130.5 351.4 1138.2 346.2 1140.4 345.9C1142.6 345.6 1144.5 350.5 1146.0 352.9C1147.5 355.3 1151.0 364.2 1153.0 365.7C1155.0 367.2 1159.8 364.9 1162.6 365.7C1165.4 366.5 1174.1 372.6 1176.6 372.7C1179.1 372.8 1181.8 369.3 1183.5 366.9C1185.2 364.5 1188.3 355.4 1190.5 352.9C1192.7 350.4 1199.6 345.9 1202.0 345.9C1204.4 345.9 1208.3 353.5 1210.3 352.9C1212.3 352.3 1216.5 344.8 1218.5 341.0C1220.5 337.2 1224.5 324.2 1226.7 321.4C1228.9 318.6 1234.5 318.7 1237.0 317.9C1239.5 317.1 1244.8 314.1 1247.6 314.4C1250.4 314.7 1257.6 317.6 1260.5 320.0C1263.4 322.4 1268.4 332.3 1272.0 334.0C1275.6 335.7 1287.4 335.1 1290.8 334.0C1294.2 332.9 1298.1 328.9 1300.0 325.0C1301.9 321.1 1305.0 306.4 1307.0 301.6C1309.0 296.8 1314.6 287.5 1316.4 285.3C1318.2 283.1 1320.2 281.5 1322.0 283.0C1323.8 284.5 1328.9 295.2 1331.0 298.0C1333.1 300.8 1337.6 303.9 1339.7 306.0C1341.8 308.1 1346.0 315.4 1348.6 315.6C1351.2 315.8 1358.3 306.8 1361.0 307.4C1363.7 308.0 1368.0 316.9 1371.0 321.0C1374.0 325.1 1382.8 340.3 1386.0 341.2C1389.2 342.1 1394.8 331.5 1397.6 328.5C1400.4 325.5 1406.1 317.7 1409.5 316.0C1412.9 314.3 1421.9 315.2 1425.8 314.4C1429.7 313.6 1439.4 311.8 1442.0 309.7C1444.6 307.6 1446.3 299.5 1447.7 297.0C1449.1 294.5 1452.1 288.7 1453.5 288.8C1454.9 288.9 1458.3 294.5 1459.4 298.0C1460.5 301.5 1461.4 313.9 1462.9 318.0C1464.4 322.1 1469.5 330.2 1472.0 332.0C1474.5 333.8 1481.0 332.3 1483.8 333.0C1486.6 333.7 1492.4 338.5 1495.5 337.7C1498.6 336.9 1507.0 326.4 1509.5 326.0C1512.0 325.6 1515.0 331.6 1516.5 334.0C1518.0 336.4 1520.1 344.3 1522.3 345.9C1524.5 347.5 1532.6 345.9 1535.0 347.0C1537.4 348.1 1539.9 351.8 1542.0 355.0C1544.1 358.2 1550.8 369.3 1552.6 373.8C1554.4 378.3 1555.2 388.7 1557.3 392.5C1559.4 396.3 1566.4 402.2 1570.0 405.3C1573.6 408.4 1584.0 417.2 1587.6 418.0C1591.2 418.8 1598.0 411.7 1600.4 412.3C1602.8 412.9 1605.7 420.6 1607.4 422.8C1609.1 425.0 1612.4 430.4 1614.4 431.0C1616.4 431.6 1622.6 427.9 1623.7 427.5" stroke="#343434" stroke-width="4.3"/>
<path d="M313.0 1121.1l2.1 -0.2M316.5 1120.7l4.1 -0.5M321.1 1120.1l4.1 -0.5M325.7 1119.6l4.1 -0.5M330.3 1119.0l4.1 -0.5M334.9 1118.5l4.1 -0.5M339.5 1117.9l4.1 -0.5M344.1 1117.3l4.1 -0.6M348.7 1116.7l4.1 -0.6M353.3 1116.0l4.1 -0.7M357.9 1115.2l4.1 -0.7M362.5 1114.4l4.1 -0.8M367.1 1113.6l4.1 -0.8M371.7 1112.7l4.1 -0.8M376.3 1111.8l4.1 -0.9M380.9 1110.8l4.1 -1.0M385.5 1109.7l4.1 -1.0M390.1 1108.6l4.1 -1.0M394.7 1107.5l4.1 -1.0M399.3 1106.4l4.1 -1.0M403.9 1105.2l4.1 -1.0M408.5 1104.1l4.1 -1.0M413.1 1103.0l4.1 -1.0M417.7 1101.8l4.1 -1.0M422.3 1100.7l4.1 -1.0M426.9 1099.5l4.1 -1.0M431.5 1098.4l4.1 -1.0M436.1 1097.3l4.1 -1.0M440.7 1096.1l4.1 -1.1M445.3 1095.0l4.1 -1.1M449.9 1093.7l4.1 -1.2M454.5 1092.4l4.1 -1.2M459.1 1091.0l4.1 -1.2M463.7 1089.7l4.1 -1.3M468.3 1088.2l4.1 -1.3M472.9 1086.8l4.1 -1.4M477.5 1085.3l4.1 -1.4M482.1 1083.7l4.1 -1.4M486.7 1082.2l4.1 -1.5M491.3 1080.6l4.1 -1.6M495.9 1078.8l4.1 -1.7M500.5 1076.9l4.1 -1.8M505.1 1074.9l4.1 -1.9M509.7 1072.8l4.1 -1.9M514.3 1070.6l4.1 -2.0M518.9 1068.5l4.1 -2.0M523.5 1066.2l4.1 -2.1M528.1 1063.9l4.1 -2.1M532.7 1061.6l4.1 -2.1M537.3 1059.2l4.1 -2.3M541.9 1056.8l4.1 -2.5M546.5 1053.9l4.1 -2.7M551.1 1050.9l4.1 -2.9M555.7 1047.7l4.1 -3.1M560.3 1044.3l4.1 -3.6M564.9 1040.2l4.1 -3.9M569.5 1035.8l4.1 -3.9M574.1 1031.5l4.1 -3.8M578.7 1027.3l4.1 -3.9M583.3 1023.0l4.1 -4.0M587.9 1018.6l4.1 -4.1M592.5 1014.1l4.1 -4.4M597.1 1009.1l4.1 -4.9M601.8 1003.9l4.0 -5.7M606.6 996.6l3.6 -6.0M611.1 988.8l3.8 -5.8M615.6 982.3l4.0 -5.7M620.3 975.8l3.7 -5.9M625.1 968.1l3.3 -6.1M629.9 959.0l3.1 -6.3M634.6 949.3l2.8 -6.4M639.3 937.9l2.6 -6.5M643.9 926.0l2.5 -6.5M648.5 914.2l2.6 -6.5M653.1 902.6l2.6 -6.5M657.7 891.5l2.6 -6.5M662.3 880.1l2.5 -6.5M667.1 867.7l2.3 -6.6M671.6 853.6l2.4 -6.6M676.2 842.5l2.4 -6.5M681.0 829.0l1.9 -6.7M685.8 810.4l1.7 -6.8M690.4 791.2l1.6 -6.8M695.0 771.6l1.6 -6.8M699.6 751.7l1.6 -6.8M704.2 731.8l1.6 -6.8M708.8 712.1l1.7 -6.8M713.2 694.0l2.0 -6.7M717.8 680.5l1.9 -6.7M722.7 662.4l1.5 -6.8M727.4 638.2l1.2 -6.9M732.0 610.1l1.2 -6.9M736.5 586.3l1.4 -6.9M741.0 564.5l1.5 -6.8M745.6 544.6l1.7 -6.8M749.9 527.6l2.1 -6.6M754.6 515.8l2.0 -6.6M759.5 496.8l1.4 -6.8M764.2 470.8l1.3 -6.9M768.7 446.6l1.4 -6.9M773.2 424.9l1.6 -6.8M777.6 407.6l2.0 -6.7M782.1 393.4l2.2 -6.6M786.6 380.4l2.4 -6.6M791.0 368.6l2.8 -6.4M795.4 359.0l3.1 -6.3M800.0 350.0l3.2 -6.2M804.7 341.0l3.1 -6.3M809.2 331.2l3.2 -6.2M813.5 322.2l3.8 -5.0M817.9 317.5l4.1 -3.1M822.7 315.0l3.8 -4.4M827.5 308.2l3.5 -6.1M831.9 299.4l3.8 -5.7M836.3 293.6l4.1 -4.5M840.9 288.5l4.1 -4.0M846.1 283.0l2.9 -1.3M850.4 282.0l3.6 1.2M856.0 285.5l1.6 -0.1M859.4 283.9l4.1 -3.7M863.9 279.4l4.1 -4.6M868.5 274.3l4.1 -4.9M873.1 268.8l4.1 -5.2M877.8 263.1l4.0 -5.7M882.6 256.0l3.5 -6.0M887.3 247.7l3.4 -6.1M891.9 239.2l3.4 -6.1M896.3 230.8l3.7 -5.8M900.8 224.1l4.1 -4.7M905.6 218.4l3.5 -2.0M910.5 216.1l3.0 0.6M915.1 219.0l3.0 0.6M919.2 218.9l4.0 -1.4M925.5 215.9l0.6 0.3M929.2 219.7l2.5 6.2M933.8 235.9l2.4 6.4M938.3 246.4l2.6 2.8M942.2 248.1l4.0 1.3M947.2 248.9l3.2 3.9M952.6 256.6l1.7 6.5M957.3 283.5l1.4 6.9M961.6 303.1l1.9 6.7M965.8 315.5l2.8 6.4M970.4 324.3l2.8 6.4M975.2 336.3l2.5 6.5M981.0 351.5l0.0 0.0M984.1 349.3l3.1 -0.4M988.2 349.4l4.0 1.7M992.7 351.7l4.1 2.6M997.3 354.6l4.1 2.7M1001.9 357.6l4.1 2.8M1006.5 360.8l4.1 2.9M1011.1 363.9l4.1 3.0M1015.7 367.1l4.1 3.5M1021.3 370.5l2.2 5.5M1026.3 389.8l1.5 3.1M1030.1 392.8l3.0 -0.4M1034.1 391.3l4.1 -2.6M1038.7 388.4l4.1 -3.1M1043.3 385.1l4.1 -3.8M1048.0 381.0l4.1 -5.2M1052.7 374.3l3.7 -5.9M1057.4 366.8l3.7 -6.0M1062.1 358.1l3.3 -3.3M1068.3 354.6l0.2 0.1M1071.7 362.0l2.7 6.5M1076.0 374.0l3.1 5.8M1080.2 380.2l4.1 4.0M1084.7 384.4l4.1 3.1M1089.5 388.3l3.7 1.5M1094.3 390.0l3.3 -0.6M1098.5 388.5l4.1 -2.6M1103.1 385.3l4.1 -2.8M1107.7 382.5l4.1 -2.8M1112.5 379.9l3.9 -4.3M1117.3 373.8l3.5 -6.0M1121.9 364.8l3.4 -6.1M1126.2 356.8l4.0 -5.0M1130.7 351.9l4.1 -3.2M1135.5 347.9l3.7 -1.5M1141.1 346.0l1.7 1.3M1144.9 350.9l3.4 6.1M1149.4 360.9l3.6 4.7M1154.2 365.8l3.1 0.8M1158.5 365.4l3.8 0.3M1163.0 366.0l4.0 1.7M1167.5 368.2l4.1 2.3M1172.4 371.3l3.7 1.1M1177.4 372.7l2.7 -1.4M1181.6 369.9l3.5 -5.7M1186.3 360.3l3.4 -6.0M1190.6 353.0l3.9 -4.0M1195.2 349.0l4.1 -2.2M1200.8 345.7l1.9 0.4M1204.4 348.3l4.1 2.9M1210.8 352.6l0.4 -0.1M1213.8 349.2l3.5 -5.9M1218.8 340.2l2.8 -6.4M1223.3 328.0l3.1 -5.8M1227.7 320.8l3.3 -2.4M1231.9 319.0l4.1 -1.0M1236.5 318.0l4.1 -1.4M1241.2 316.0l4.1 -1.3M1246.0 314.3l3.7 0.2M1250.4 315.0l4.1 1.5M1255.0 316.6l4.1 2.4M1259.6 319.0l3.9 4.1M1264.1 324.8l4.1 5.4M1269.0 331.8l3.5 2.8M1273.4 334.4l4.0 0.8M1277.9 335.0l4.1 0.0M1282.5 335.0l4.1 -0.3M1287.2 334.9l4.0 -1.1M1291.9 333.8l3.8 -2.8M1296.9 330.4l3.1 -5.6M1301.9 318.8l2.2 -6.6M1306.4 303.5l2.5 -6.4M1310.4 294.8l3.6 -6.0M1315.0 286.6l3.6 -3.5M1321.1 282.5l0.6 0.3M1324.2 286.4l3.7 5.9M1328.6 294.7l4.0 5.5M1333.1 300.2l4.1 3.9M1337.8 303.9l4.1 4.4M1342.4 310.0l4.0 4.1M1348.3 315.5l1.3 0.0M1351.5 313.9l4.1 -3.1M1356.7 309.1l3.1 -1.2M1361.6 307.8l2.5 1.8M1365.5 312.5l3.9 5.8M1370.1 319.5l3.8 5.9M1374.7 326.6l3.9 5.8M1379.2 333.7l4.1 5.1M1385.4 341.0l0.9 0.2M1388.5 340.2l3.8 -3.8M1392.9 334.7l4.1 -5.4M1397.5 328.7l4.1 -5.0M1402.1 323.0l4.1 -4.4M1407.0 317.6l3.7 -2.3M1411.4 315.4l4.0 -0.7M1415.9 314.9l4.1 -0.2M1420.5 314.9l4.1 -0.3M1425.1 314.5l4.1 -0.7M1429.7 313.6l4.1 -1.0M1434.3 312.6l4.1 -1.3M1439.4 312.0l3.2 -3.3M1444.0 305.8l3.2 -6.2M1448.5 294.9l3.4 -4.7M1454.8 289.8l0.0 0.0M1458.4 294.8l1.9 6.4M1463.0 317.3l1.9 6.3M1466.6 325.5l4.0 5.2M1471.6 331.7l3.2 1.7M1475.7 332.9l4.1 0.1M1480.5 332.5l3.9 0.7M1485.0 333.6l4.1 1.8M1489.7 336.3l3.8 1.2M1494.7 337.9l2.9 -1.1M1498.7 335.4l4.1 -3.7M1503.4 330.8l4.1 -3.3M1509.6 326.0l0.7 0.1M1512.8 328.0l3.6 5.6M1517.5 337.4l3.5 5.9M1522.5 345.5l2.7 1.8M1526.3 346.6l4.1 0.1M1531.2 346.1l3.6 1.0M1535.7 347.3l3.7 3.5M1540.3 352.4l3.9 5.8M1545.1 359.9l3.5 6.1M1550.3 368.0l2.3 6.4M1554.9 385.6l2.3 6.3M1558.6 394.0l4.0 5.3M1563.1 399.2l4.1 3.8M1567.7 403.4l4.1 3.5M1572.3 407.3l4.1 3.4M1576.9 411.1l4.1 3.1M1581.6 414.7l4.1 2.4M1586.7 418.0l2.9 0.1M1590.8 417.3l4.0 -2.0M1595.7 413.9l3.4 -1.0M1600.9 412.6l2.2 2.0M1604.7 418.6l3.7 5.9M1609.3 426.1l3.8 3.9M1614.6 430.8l2.5 0.3M1619.4 429.5l2.1 -0.8" stroke="#343434" stroke-width="5.3" stroke-linecap="round"/>
<path d="M314.0 1122.0C323.9 1121.1 364.9 1117.3 380.0 1115.9C395.1 1114.5 404.5 1113.6 415.0 1112.4C425.5 1111.2 439.5 1108.9 450.0 1107.7C460.5 1106.5 474.5 1105.2 485.0 1104.2C495.5 1103.2 509.4 1101.8 519.9 1100.7C530.4 1099.6 541.8 1097.9 554.8 1096.8C567.8 1095.7 593.6 1094.9 606.6 1093.6C619.6 1092.3 631.1 1089.8 641.6 1088.4C652.1 1087.0 666.1 1085.1 676.6 1084.3C687.1 1083.5 697.3 1083.2 711.5 1083.0C725.7 1082.8 759.3 1081.6 771.0 1083.0C782.7 1084.4 780.5 1091.2 789.6 1092.5C798.7 1093.8 820.0 1092.8 831.5 1091.4C843.0 1090.0 857.8 1085.6 866.5 1083.0C875.2 1080.4 882.8 1076.9 889.8 1074.0C896.8 1071.1 906.0 1066.2 913.0 1063.4C920.0 1060.6 929.4 1056.7 936.4 1055.0C943.4 1053.3 949.2 1052.5 959.7 1051.8C970.2 1051.1 991.3 1050.9 1006.3 1050.6C1021.3 1050.3 1041.4 1049.4 1060.0 1049.6C1078.6 1049.8 1109.0 1051.0 1130.0 1052.0C1151.0 1053.0 1182.5 1055.4 1200.0 1056.6C1217.5 1057.8 1232.5 1059.6 1246.5 1060.0C1260.5 1060.4 1279.0 1059.7 1293.0 1059.0C1307.0 1058.3 1325.7 1056.2 1339.7 1055.4C1353.7 1054.6 1368.3 1053.7 1386.3 1053.5C1404.3 1053.3 1424.2 1053.9 1460.0 1054.0C1495.8 1054.1 1600.2 1054.3 1625.0 1054.3" stroke="#ffb060" stroke-width="5.4"/>
<path d="M314.0 1121.0C315.1 1120.8 348.0 1115.8 350.0 1115.5C352.0 1115.2 378.1 1110.4 380.0 1110.0C381.9 1109.6 413.3 1101.2 415.0 1100.7C416.7 1100.2 436.9 1094.2 438.3 1093.7C439.7 1093.2 460.2 1083.9 461.6 1083.2C463.0 1082.5 483.6 1071.2 485.0 1070.4C486.4 1069.6 506.8 1057.3 508.2 1056.4C509.6 1055.5 530.1 1042.3 531.5 1041.3C532.9 1040.3 553.8 1024.5 554.8 1023.8C555.8 1023.1 565.8 1017.1 566.5 1016.8C567.2 1016.5 576.6 1012.8 577.5 1012.6C578.4 1012.4 594.1 1011.3 595.0 1011.5C595.9 1011.7 606.1 1020.0 606.6 1020.8C607.1 1021.6 609.9 1037.2 610.1 1038.3C610.3 1039.3 613.2 1055.0 613.6 1055.8C614.0 1056.6 623.3 1063.8 624.1 1063.9C624.9 1064.0 640.6 1060.7 641.6 1060.4C642.6 1060.1 658.0 1054.0 659.0 1053.4C660.0 1052.8 675.9 1041.1 676.6 1040.6C677.3 1040.1 683.2 1035.7 683.5 1035.9C683.8 1036.1 685.7 1045.9 685.9 1046.4C686.1 1046.9 690.1 1051.2 690.5 1051.1C690.9 1051.0 699.3 1043.6 699.9 1043.0C700.5 1042.4 710.9 1031.7 711.5 1031.3C712.1 1030.9 720.2 1031.7 720.8 1031.3C721.4 1030.9 729.6 1019.8 730.2 1019.6C730.8 1019.4 739.0 1022.7 739.5 1023.1C740.0 1023.5 745.8 1033.5 746.5 1033.6C747.2 1033.7 760.7 1026.4 761.6 1026.0C762.5 1025.6 777.4 1021.1 778.0 1021.5C778.6 1021.9 780.7 1037.6 781.4 1037.8C782.1 1038.0 800.4 1027.3 801.2 1027.3C802.0 1027.3 807.1 1037.7 808.0 1037.8C808.9 1037.9 830.5 1030.7 831.5 1030.8C832.5 1030.9 840.3 1042.1 840.8 1042.4C841.3 1042.7 847.4 1042.2 847.8 1042.4C848.2 1042.6 853.2 1049.5 853.7 1049.4C854.2 1049.3 863.1 1040.5 864.0 1040.0C864.9 1039.5 881.9 1032.8 882.8 1033.0C883.7 1033.2 892.4 1047.9 893.3 1048.3C894.2 1048.7 911.8 1046.2 913.0 1046.0C914.2 1045.8 930.6 1040.6 931.7 1040.0C932.8 1039.4 949.8 1027.0 950.4 1027.3C951.0 1027.6 951.3 1049.9 951.6 1050.6C951.9 1051.3 961.5 1051.2 962.0 1051.8C962.5 1052.4 966.1 1068.8 966.7 1069.0C967.3 1069.2 981.9 1059.4 983.0 1058.7C984.1 1058.0 1003.2 1047.0 1004.0 1047.0C1004.8 1047.0 1010.2 1057.5 1011.0 1057.6C1011.8 1057.7 1028.3 1052.3 1029.6 1051.8C1030.9 1051.3 1052.2 1039.3 1053.0 1040.0C1053.8 1040.7 1055.1 1073.9 1055.3 1075.0C1055.5 1076.1 1059.4 1076.7 1060.0 1076.4C1060.6 1076.1 1073.1 1064.3 1074.0 1063.6C1074.9 1062.9 1089.5 1053.3 1090.3 1053.0C1091.1 1052.7 1101.3 1052.8 1102.0 1053.0C1102.7 1053.2 1112.9 1058.9 1113.6 1059.0C1114.3 1059.1 1124.4 1056.0 1125.3 1055.4C1126.2 1054.8 1143.0 1038.3 1144.0 1038.0C1145.0 1037.7 1157.0 1044.1 1158.0 1043.8C1159.0 1043.5 1178.2 1027.8 1179.0 1027.5C1179.8 1027.2 1185.7 1033.1 1186.0 1034.5C1186.3 1035.9 1187.8 1072.0 1188.2 1073.0C1188.6 1074.0 1199.0 1067.7 1200.0 1067.0C1201.0 1066.3 1221.7 1049.4 1223.0 1048.4C1224.3 1047.4 1242.2 1033.3 1243.0 1033.3C1243.8 1033.3 1249.5 1049.1 1250.0 1049.6C1250.5 1050.1 1257.6 1049.0 1258.0 1049.6C1258.4 1050.2 1262.2 1068.9 1262.8 1069.4C1263.4 1069.9 1278.1 1066.3 1279.0 1066.0C1279.9 1065.7 1291.7 1058.5 1293.0 1057.8C1294.3 1057.1 1321.1 1041.5 1322.2 1041.4C1323.3 1041.3 1329.2 1054.7 1330.4 1054.3C1331.6 1053.9 1361.3 1028.4 1362.3 1029.6C1363.3 1030.8 1364.8 1091.5 1365.0 1093.5C1365.2 1095.5 1369.2 1096.1 1370.5 1095.5C1371.8 1094.9 1406.9 1075.9 1409.2 1074.8C1411.5 1073.7 1445.1 1058.8 1446.5 1058.5C1447.9 1058.2 1455.5 1064.5 1455.9 1065.5C1456.3 1066.5 1458.7 1090.5 1459.4 1091.0C1460.1 1091.5 1477.8 1082.4 1479.2 1081.8C1480.6 1081.2 1506.1 1069.8 1507.0 1070.0C1507.9 1070.2 1509.9 1089.6 1510.6 1090.0C1511.3 1090.4 1529.0 1084.6 1530.5 1084.0C1532.0 1083.4 1559.0 1070.8 1560.8 1070.0C1562.6 1069.2 1589.0 1058.1 1590.0 1058.5C1591.0 1058.9 1595.3 1083.3 1595.7 1084.0C1596.1 1084.7 1601.8 1083.4 1602.7 1083.0C1603.6 1082.6 1624.2 1071.7 1624.9 1071.3" stroke="#2c2cff" stroke-width="4.4"/>
<path d="M313.4 1121.1l1.2 -0.2M315.4 1120.8l2.3 -0.4M318.0 1120.4l2.3 -0.4M320.6 1120.0l2.3 -0.4M323.2 1119.6l2.3 -0.4M325.8 1119.2l2.3 -0.4M328.4 1118.8l2.3 -0.4M331.0 1118.4l2.3 -0.4M333.6 1118.0l2.3 -0.4M336.2 1117.6l2.3 -0.4M338.8 1117.2l2.3 -0.4M341.4 1116.8l2.3 -0.4M344.0 1116.4l2.3 -0.4M346.6 1116.0l2.3 -0.4M349.2 1115.6l2.3 -0.4M351.8 1115.2l2.3 -0.4M354.4 1114.7l2.3 -0.4M357.0 1114.2l2.3 -0.4M359.6 1113.8l2.3 -0.4M362.2 1113.3l2.3 -0.4M364.8 1112.8l2.3 -0.4M367.4 1112.4l2.3 -0.4M370.0 1111.9l2.3 -0.4M372.6 1111.4l2.3 -0.4M375.2 1110.9l2.3 -0.4M377.8 1110.4l2.3 -0.5M380.4 1109.9l2.3 -0.6M383.0 1109.2l2.3 -0.6M385.6 1108.5l2.3 -0.6M388.2 1107.9l2.3 -0.6M390.8 1107.2l2.3 -0.6M393.4 1106.5l2.3 -0.6M396.0 1105.8l2.3 -0.6M398.6 1105.1l2.3 -0.6M401.2 1104.4l2.3 -0.6M403.8 1103.7l2.3 -0.6M406.4 1103.0l2.3 -0.6M409.0 1102.3l2.3 -0.6M411.6 1101.6l2.3 -0.6M414.2 1100.9l2.3 -0.7M416.8 1100.2l2.3 -0.7M419.4 1099.4l2.3 -0.7M422.0 1098.6l2.3 -0.7M424.6 1097.9l2.3 -0.7M427.2 1097.1l2.3 -0.7M429.8 1096.3l2.3 -0.7M432.4 1095.5l2.3 -0.7M435.0 1094.7l2.3 -0.8M437.6 1093.9l2.3 -0.9M440.2 1092.9l2.3 -1.0M442.8 1091.7l2.3 -1.0M445.4 1090.6l2.3 -1.1M448.0 1089.4l2.3 -1.1M450.6 1088.2l2.3 -1.1M453.2 1087.0l2.3 -1.1M455.8 1085.9l2.3 -1.1M458.4 1084.7l2.3 -1.1M461.0 1083.5l2.3 -1.2M463.6 1082.1l2.3 -1.3M466.2 1080.7l2.3 -1.3M468.8 1079.3l2.3 -1.3M471.4 1077.9l2.3 -1.3M474.0 1076.4l2.3 -1.3M476.6 1075.0l2.3 -1.3M479.2 1073.6l2.3 -1.3M481.8 1072.2l2.3 -1.3M484.4 1070.7l2.3 -1.4M487.0 1069.2l2.3 -1.4M489.6 1067.6l2.3 -1.4M492.2 1066.1l2.3 -1.4M494.8 1064.5l2.3 -1.4M497.4 1062.9l2.3 -1.4M500.0 1061.4l2.3 -1.4M502.6 1059.8l2.3 -1.4M505.2 1058.2l2.3 -1.4M507.8 1056.6l2.3 -1.5M510.4 1055.0l2.3 -1.5M513.0 1053.3l2.3 -1.5M515.6 1051.6l2.3 -1.5M518.2 1049.9l2.3 -1.5M520.8 1048.3l2.3 -1.5M523.4 1046.6l2.3 -1.5M526.0 1044.9l2.3 -1.5M528.6 1043.2l2.3 -1.6M531.2 1041.5l2.3 -1.7M533.8 1039.6l2.3 -1.8M536.4 1037.6l2.3 -1.8M539.0 1035.7l2.3 -1.8M541.6 1033.7l2.3 -1.8M544.2 1031.7l2.3 -1.8M546.8 1029.8l2.3 -1.8M549.4 1027.8l2.3 -1.8M552.0 1025.8l2.3 -1.7M554.6 1023.9l2.3 -1.5M557.2 1022.3l2.3 -1.4M559.8 1020.7l2.3 -1.4M562.4 1019.2l2.3 -1.4M565.0 1017.6l2.3 -1.2M567.6 1016.3l2.3 -1.0M570.2 1015.3l2.3 -0.9M572.8 1014.3l2.3 -0.9M575.4 1013.2l2.3 -0.6M578.0 1012.6l2.3 -0.3M580.6 1012.3l2.3 -0.2M583.2 1012.1l2.3 -0.2M585.8 1011.9l2.3 -0.2M588.4 1011.8l2.3 -0.1M591.0 1011.6l2.3 -0.1M593.8 1011.2l1.9 0.6M596.2 1012.3l2.3 1.7M598.8 1014.3l2.3 1.8M601.4 1016.3l2.3 1.9M604.2 1017.7l2.1 3.5M607.0 1022.8l1.7 6.7M609.7 1036.5l1.3 6.9M612.1 1050.2l1.8 6.3M614.5 1056.3l2.2 2.7M617.0 1058.8l2.3 1.8M619.6 1060.8l2.3 1.7M622.4 1063.1l2.0 0.7M624.9 1063.7l2.3 -0.2M627.4 1063.4l2.3 -0.5M630.0 1062.9l2.3 -0.5M632.6 1062.3l2.3 -0.5M635.2 1061.8l2.3 -0.5M637.8 1061.3l2.3 -0.5M640.4 1060.8l2.3 -0.7M643.0 1059.9l2.3 -0.9M645.6 1058.9l2.3 -0.9M648.2 1057.8l2.3 -0.9M650.8 1056.8l2.3 -0.9M653.4 1055.7l2.3 -1.0M656.0 1054.7l2.3 -1.1M658.6 1053.6l2.3 -1.4M661.2 1051.8l2.3 -1.7M663.8 1050.0l2.3 -1.7M666.4 1048.1l2.3 -1.7M669.0 1046.2l2.3 -1.7M671.6 1044.3l2.3 -1.7M674.2 1042.3l2.3 -1.7M676.8 1040.4l2.3 -1.7M679.4 1038.5l2.3 -1.6M683.2 1036.0l0.0 0.0M684.7 1043.3l2.1 5.4M687.3 1048.3l2.2 2.0M690.6 1050.8l0.8 -0.1M692.4 1049.6l2.3 -2.0M695.0 1047.3l2.3 -2.1M697.6 1045.1l2.3 -2.2M700.2 1042.6l2.3 -2.3M702.8 1040.0l2.3 -2.4M705.4 1037.3l2.3 -2.4M708.0 1034.6l2.3 -2.2M710.9 1031.6l1.8 -0.8M713.2 1031.2l2.3 0.0M715.8 1031.3l2.3 0.1M718.6 1031.7l1.9 -0.6M721.1 1030.7l2.2 -2.2M723.6 1027.8l2.3 -3.0M726.2 1024.4l2.3 -2.9M729.4 1020.1l1.1 -0.6M731.4 1019.9l2.3 0.6M734.0 1020.8l2.3 0.9M736.7 1021.6l2.2 1.4M739.3 1023.1l2.2 2.7M741.8 1026.7l2.3 3.7M744.8 1031.9l1.5 1.3M747.2 1033.1l1.9 -0.4M749.6 1032.2l2.3 -1.2M752.2 1030.9l2.3 -1.2M754.8 1029.5l2.3 -1.2M757.4 1028.1l2.3 -1.2M760.0 1026.7l2.3 -1.0M762.6 1025.7l2.3 -0.8M765.2 1024.9l2.3 -0.7M767.8 1024.1l2.3 -0.7M770.4 1023.3l2.3 -0.7M773.0 1022.6l2.3 -0.6M776.6 1021.5l0.3 0.4M778.3 1024.9l2.2 6.6M782.0 1037.6l0.0 0.0M783.4 1036.9l2.3 -1.2M786.0 1035.5l2.3 -1.3M788.6 1034.1l2.3 -1.3M791.2 1032.6l2.3 -1.3M793.8 1031.2l2.3 -1.3M796.4 1029.7l2.3 -1.3M799.6 1027.7l1.1 0.1M801.8 1028.2l2.1 2.5M804.2 1032.1l2.3 3.7M807.6 1037.6l0.8 0.5M809.4 1037.5l2.3 -0.7M812.0 1036.7l2.3 -0.7M814.6 1035.9l2.3 -0.7M817.2 1035.1l2.3 -0.7M819.8 1034.3l2.3 -0.7M822.4 1033.4l2.3 -0.7M825.0 1032.6l2.3 -0.7M827.6 1031.8l2.3 -0.6M830.8 1030.6l1.2 0.5M832.8 1032.1l2.3 2.7M835.4 1035.3l2.3 3.1M838.1 1039.1l2.3 2.5M840.9 1042.2l1.8 0.7M843.2 1042.5l2.3 -0.1M846.1 1042.0l1.7 0.7M848.5 1043.4l2.3 2.4M851.3 1047.2l1.9 1.4M854.2 1048.7l1.3 -0.4M856.2 1047.2l2.3 -2.2M858.8 1044.7l2.3 -2.2M861.4 1042.1l2.3 -1.8M864.1 1040.1l2.3 -1.2M866.6 1038.9l2.3 -0.9M869.2 1037.8l2.3 -0.9M871.8 1036.8l2.3 -0.9M874.4 1035.8l2.3 -0.9M877.0 1034.8l2.3 -0.8M879.7 1033.7l2.2 -0.3M882.7 1033.1l1.4 1.1M884.8 1035.7l2.3 3.5M887.4 1039.7l2.3 3.6M890.0 1043.9l2.3 3.0M893.1 1047.9l1.5 0.8M895.2 1048.3l2.3 -0.2M897.8 1048.0l2.3 -0.3M900.4 1047.7l2.3 -0.3M903.0 1047.4l2.3 -0.3M905.6 1047.1l2.3 -0.3M908.2 1046.7l2.3 -0.3M910.8 1046.4l2.3 -0.4M913.4 1045.9l2.3 -0.6M916.0 1045.1l2.3 -0.7M918.6 1044.3l2.3 -0.7M921.2 1043.5l2.3 -0.7M923.8 1042.6l2.3 -0.8M926.4 1041.8l2.3 -0.8M929.0 1041.0l2.3 -1.0M931.6 1040.0l2.3 -1.4M934.2 1038.3l2.3 -1.6M936.8 1036.4l2.3 -1.7M939.4 1034.6l2.3 -1.7M942.0 1032.8l2.3 -1.6M944.6 1030.9l2.3 -1.6M948.4 1028.4l0.0 0.0M950.2 1032.7l1.5 6.7M953.3 1050.2l0.5 1.6M955.0 1051.2l2.3 0.2M957.6 1051.3l2.3 0.2M960.9 1050.9l0.9 1.4M963.0 1056.0l2.0 6.7M966.6 1068.8l0.0 0.0M968.0 1068.3l2.3 -1.2M970.6 1066.8l2.3 -1.5M973.2 1065.1l2.3 -1.5M975.8 1063.4l2.3 -1.5M978.4 1061.7l2.3 -1.5M981.0 1059.9l2.3 -1.5M983.6 1058.3l2.3 -1.4M986.2 1056.8l2.3 -1.3M988.8 1055.3l2.3 -1.3M991.4 1053.9l2.3 -1.3M994.0 1052.4l2.3 -1.3M996.6 1050.9l2.3 -1.3M999.2 1049.5l2.3 -1.3M1002.4 1047.4l1.2 0.0M1004.6 1047.9l2.1 2.4M1007.0 1051.5l2.3 3.8M1010.3 1057.1l1.0 0.7M1012.2 1057.3l2.3 -0.5M1014.8 1056.6l2.3 -0.7M1017.4 1055.8l2.3 -0.7M1020.0 1055.0l2.3 -0.8M1022.6 1054.1l2.3 -0.8M1025.2 1053.3l2.3 -0.8M1027.8 1052.5l2.3 -1.0M1030.4 1051.4l2.3 -1.2M1033.0 1050.0l2.3 -1.3M1035.6 1048.6l2.3 -1.3M1038.2 1047.2l2.3 -1.3M1040.8 1045.8l2.3 -1.2M1043.4 1044.4l2.3 -1.2M1046.0 1043.1l2.3 -1.2M1048.6 1041.7l2.3 -1.1M1052.4 1040.1l0.0 0.0M1054.5 1066.6l1.0 6.6M1057.2 1075.7l0.9 1.1M1059.3 1076.6l1.8 -0.8M1061.6 1075.0l2.3 -2.1M1064.2 1072.6l2.3 -2.2M1066.8 1070.2l2.3 -2.2M1069.4 1067.8l2.3 -2.2M1072.0 1065.3l2.3 -1.9M1074.6 1063.2l2.3 -1.6M1077.2 1061.4l2.3 -1.5M1079.8 1059.7l2.3 -1.5M1082.4 1058.0l2.3 -1.5M1085.0 1056.3l2.3 -1.5M1087.7 1054.5l2.3 -1.2M1090.3 1053.1l2.2 -0.5M1092.8 1052.8l2.3 -0.0M1095.4 1052.8l2.3 0.0M1098.0 1052.8l2.3 0.1M1100.7 1052.7l2.2 0.6M1103.2 1053.6l2.3 1.2M1105.8 1055.0l2.3 1.3M1108.4 1056.4l2.3 1.2M1111.1 1058.0l2.2 0.7M1113.7 1058.8l2.1 -0.1M1116.2 1058.4l2.3 -0.7M1118.8 1057.6l2.3 -0.7M1121.4 1056.8l2.3 -0.8M1124.1 1056.1l2.2 -1.4M1126.6 1054.2l2.3 -2.2M1129.2 1051.7l2.3 -2.2M1131.8 1049.3l2.3 -2.2M1134.4 1046.8l2.3 -2.2M1137.0 1044.3l2.3 -2.2M1139.6 1041.8l2.3 -2.1M1142.6 1038.8l1.6 -0.7M1144.9 1038.3l2.2 0.6M1147.4 1039.2l2.3 1.1M1150.0 1040.4l2.3 1.1M1152.6 1041.7l2.3 1.1M1155.4 1043.2l2.1 0.4M1158.0 1043.6l2.0 -0.8M1160.4 1042.1l2.3 -1.8M1163.0 1040.0l2.3 -1.8M1165.6 1038.0l2.3 -1.9M1168.2 1035.9l2.3 -1.9M1170.8 1033.8l2.3 -1.9M1173.4 1031.8l2.3 -1.8M1176.1 1029.5l2.2 -1.3M1179.2 1027.7l1.1 0.3M1181.2 1028.9l2.3 2.3M1184.6 1030.2l0.8 5.5M1187.2 1061.3l0.9 6.7M1190.2 1072.5l0.0 0.0M1191.6 1071.8l2.3 -1.2M1194.2 1070.4l2.3 -1.3M1196.8 1069.0l2.3 -1.5M1199.4 1067.4l2.3 -1.7M1202.0 1065.4l2.3 -1.9M1204.6 1063.3l2.3 -1.9M1207.2 1061.2l2.3 -1.9M1209.8 1059.1l2.3 -1.9M1212.4 1057.0l2.3 -1.9M1215.0 1054.9l2.3 -1.9M1217.6 1052.7l2.3 -1.9M1220.2 1050.6l2.3 -1.9M1222.8 1048.5l2.3 -1.9M1225.4 1046.5l2.3 -1.8M1228.0 1044.5l2.3 -1.8M1230.6 1042.4l2.3 -1.8M1233.2 1040.4l2.3 -1.8M1235.8 1038.4l2.3 -1.8M1238.4 1036.4l2.3 -1.7M1242.1 1033.7l0.2 0.0M1243.7 1034.8l2.2 4.0M1246.2 1040.3l2.3 5.8M1249.5 1049.0l0.9 1.2M1251.4 1049.7l2.3 -0.1M1254.0 1049.5l2.3 -0.1M1257.5 1048.9l0.6 1.2M1259.5 1056.6l1.8 6.8M1262.8 1069.1l0.3 0.6M1264.4 1069.3l2.3 -0.4M1267.0 1068.8l2.3 -0.5M1269.6 1068.3l2.3 -0.5M1272.2 1067.7l2.3 -0.6M1274.8 1067.1l2.3 -0.6M1277.5 1066.6l2.3 -0.9M1280.0 1065.4l2.3 -1.3M1282.6 1064.0l2.3 -1.4M1285.2 1062.4l2.3 -1.4M1287.8 1060.9l2.3 -1.4M1290.4 1059.3l2.3 -1.4M1293.0 1057.8l2.3 -1.4M1295.6 1056.3l2.3 -1.4M1298.2 1054.8l2.3 -1.3M1300.8 1053.3l2.3 -1.3M1303.4 1051.8l2.3 -1.3M1306.0 1050.3l2.3 -1.3M1308.6 1048.8l2.3 -1.3M1311.2 1047.3l2.3 -1.3M1313.8 1045.9l2.3 -1.3M1316.4 1044.4l2.3 -1.3M1319.1 1042.8l2.2 -0.8M1322.4 1041.6l0.8 0.6M1324.2 1044.3l2.3 4.1M1326.9 1049.4l2.3 3.5M1330.5 1054.1l0.1 0.0M1332.0 1053.1l2.3 -1.8M1334.6 1051.0l2.3 -1.9M1337.2 1048.9l2.3 -1.9M1339.8 1046.8l2.3 -1.9M1342.4 1044.6l2.3 -1.9M1345.0 1042.5l2.3 -1.9M1347.6 1040.4l2.3 -1.9M1350.2 1038.3l2.3 -1.9M1352.8 1036.2l2.3 -1.8M1355.4 1034.2l2.3 -1.8M1358.0 1032.1l2.3 -1.6M1361.8 1029.8l0.0 0.0M1364.1 1072.2l0.6 7.0M1366.8 1094.5l0.5 1.8M1368.6 1095.8l2.0 -0.3M1371.0 1095.2l2.3 -1.1M1373.6 1093.9l2.3 -1.2M1376.2 1092.5l2.3 -1.3M1378.8 1091.1l2.3 -1.3M1381.4 1089.7l2.3 -1.3M1384.0 1088.3l2.3 -1.3M1386.6 1086.9l2.3 -1.3M1389.2 1085.5l2.3 -1.3M1391.8 1084.1l2.3 -1.3M1394.4 1082.7l2.3 -1.3M1397.0 1081.3l2.3 -1.3M1399.6 1079.9l2.3 -1.3M1402.2 1078.5l2.3 -1.3M1404.8 1077.1l2.3 -1.2M1407.4 1075.7l2.3 -1.2M1410.0 1074.4l2.3 -1.1M1412.6 1073.2l2.3 -1.0M1415.2 1072.1l2.3 -1.0M1417.8 1070.9l2.3 -1.0M1420.4 1069.8l2.3 -1.0M1423.0 1068.6l2.3 -1.0M1425.6 1067.5l2.3 -1.0M1428.2 1066.3l2.3 -1.0M1430.8 1065.2l2.3 -1.0M1433.4 1064.0l2.3 -1.0M1436.0 1062.9l2.3 -1.0M1438.6 1061.8l2.3 -1.0M1441.2 1060.7l2.3 -1.0M1443.9 1059.3l2.2 -0.6M1446.7 1058.6l1.9 0.5M1449.0 1059.7l2.3 1.6M1451.6 1061.5l2.3 2.0M1454.7 1062.3l1.4 5.2M1457.3 1078.9l1.4 6.8M1460.6 1090.7l0.0 0.0M1462.0 1090.1l2.3 -1.0M1464.6 1088.9l2.3 -1.1M1467.2 1087.7l2.3 -1.1M1469.8 1086.4l2.3 -1.1M1472.4 1085.1l2.3 -1.2M1475.0 1083.9l2.3 -1.2M1477.6 1082.5l2.3 -1.1M1480.2 1081.3l2.3 -1.0M1482.8 1080.2l2.3 -1.0M1485.4 1079.0l2.3 -1.0M1488.0 1077.9l2.3 -1.0M1490.6 1076.7l2.3 -1.0M1493.2 1075.6l2.3 -1.0M1495.8 1074.5l2.3 -1.0M1498.4 1073.3l2.3 -1.0M1501.0 1072.2l2.3 -1.0M1503.8 1070.9l2.1 -0.3M1507.1 1070.1l0.5 1.7M1509.3 1085.0l1.4 5.0M1511.9 1089.5l1.3 0.4M1514.0 1089.3l2.3 -0.7M1516.6 1088.5l2.3 -0.7M1519.2 1087.7l2.3 -0.7M1521.8 1086.9l2.3 -0.8M1524.4 1086.0l2.3 -0.8M1527.0 1085.2l2.3 -0.8M1529.6 1084.3l2.3 -0.9M1532.2 1083.2l2.3 -1.1M1534.8 1082.0l2.3 -1.1M1537.4 1080.8l2.3 -1.1M1540.0 1079.6l2.3 -1.1M1542.6 1078.4l2.3 -1.1M1545.2 1077.2l2.3 -1.1M1547.8 1076.0l2.3 -1.1M1550.4 1074.8l2.3 -1.1M1553.0 1073.6l2.3 -1.1M1555.6 1072.4l2.3 -1.1M1558.2 1071.2l2.3 -1.1M1560.8 1070.0l2.3 -1.0M1563.4 1068.9l2.3 -1.0M1566.0 1067.8l2.3 -1.0M1568.6 1066.7l2.3 -1.0M1571.2 1065.6l2.3 -1.0M1573.8 1064.6l2.3 -1.0M1576.4 1063.5l2.3 -0.9M1579.0 1062.4l2.3 -0.9M1581.6 1061.4l2.3 -0.9M1584.2 1060.4l2.3 -0.9M1587.1 1059.0l1.8 0.0M1590.0 1058.5l1.3 3.1M1592.5 1068.2l1.5 6.8M1595.6 1083.5l0.4 1.1M1597.3 1084.1l2.3 -0.3M1599.8 1083.8l2.3 -0.7M1602.4 1083.1l2.3 -1.0M1605.0 1081.8l2.3 -1.2M1607.6 1080.4l2.3 -1.2M1610.2 1079.1l2.3 -1.2M1612.8 1077.7l2.3 -1.2M1615.4 1076.3l2.3 -1.2M1618.0 1074.9l2.3 -1.2M1620.6 1073.6l2.3 -1.2M1623.8 1071.9l1.2 -0.6" stroke="#2c2cff" stroke-width="5.4" stroke-linecap="round"/>
<path d="M314.0 1122.0C323.9 1121.1 364.9 1117.3 380.0 1115.9C395.1 1114.5 404.5 1113.6 415.0 1112.4C425.5 1111.2 439.5 1108.9 450.0 1107.7C460.5 1106.5 474.5 1105.2 485.0 1104.2C495.5 1103.2 509.4 1101.8 519.9 1100.7C530.4 1099.6 541.8 1097.9 554.8 1096.8C567.8 1095.7 593.6 1094.9 606.6 1093.6C619.6 1092.3 631.1 1089.8 641.6 1088.4C652.1 1087.0 666.1 1085.1 676.6 1084.3C687.1 1083.5 697.3 1083.2 711.5 1083.0C725.7 1082.8 759.3 1081.6 771.0 1083.0C782.7 1084.4 780.5 1091.2 789.6 1092.5C798.7 1093.8 820.0 1092.8 831.5 1091.4C843.0 1090.0 857.8 1085.6 866.5 1083.0C875.2 1080.4 882.8 1076.9 889.8 1074.0C896.8 1071.1 906.0 1066.2 913.0 1063.4C920.0 1060.6 929.4 1056.7 936.4 1055.0C943.4 1053.3 949.2 1052.5 959.7 1051.8C970.2 1051.1 991.3 1050.9 1006.3 1050.6C1021.3 1050.3 1041.4 1049.4 1060.0 1049.6C1078.6 1049.8 1109.0 1051.0 1130.0 1052.0C1151.0 1053.0 1182.5 1055.4 1200.0 1056.6C1217.5 1057.8 1232.5 1059.6 1246.5 1060.0C1260.5 1060.4 1279.0 1059.7 1293.0 1059.0C1307.0 1058.3 1325.7 1056.2 1339.7 1055.4C1353.7 1054.6 1368.3 1053.7 1386.3 1053.5C1404.3 1053.3 1424.2 1053.9 1460.0 1054.0C1495.8 1054.1 1600.2 1054.3 1625.0 1054.3" stroke="#ff9226" stroke-width="5.2" stroke-dasharray="20 9 9 7 26 10 7 6"/>
</g>
</g>
<g filter="url(#soft)">
<g fill="none">
<line x1="1626.5" y1="84.7" x2="1626.5" y2="1170" stroke="#9a9a9a" stroke-width="10.0"/>
<line x1="1626.5" y1="84.7" x2="1626.5" y2="1170" stroke="#424242" stroke-width="6.0"/>
</g>
<rect x="341.3" y="127.4" width="113.7" height="15.5" fill="#000000"/>
<rect x="560.8" y="128.1" width="101.6" height="15" fill="#ff0000"/>
<rect x="773.2" y="130.7" width="104.6" height="15.3" fill="#1f6fd0"/>
<rect x="977.5" y="130.0" width="105.3" height="16" fill="#00ffff"/>
<rect x="1196.6" y="128.0" width="104.2" height="15" fill="#66cc33"/>
<rect x="1416.5" y="130.5" width="104.2" height="15" fill="#ffc000"/>
</g>
<g filter="url(#soft)">
<text font-size="78" transform="scale(0.9,1)" y="161.2" x="505.0 559.9">C1</text>
<text font-size="78" transform="scale(0.9,1)" y="161.2" x="740.7 797.2">C2</text>
<text font-size="78" transform="scale(0.9,1)" y="161.2" x="982.4 1038.5">C3</text>
<text font-size="78" transform="scale(0.9,1)" y="161.2" x="1221.0 1277.3">C4</text>
<text font-size="78" transform="scale(0.9,1)" y="161.2" x="1456.6 1513.3">C5</text>
<text font-size="78" transform="scale(0.9,1)" y="161.2" x="1696.6 1752.9">C6</text>
<text font-size="78" y="114.8" x="230.5">4</text>
<text font-size="78" y="242.6" x="170.8 217.2 239.0">3.5</text>
<text font-size="78" y="380.3" x="235.7">3</text>
<text font-size="78" y="511.0" x="173.8 219.8 241.6">2.5</text>
<text font-size="78" y="646.6" x="232.8">2</text>
<text font-size="78" y="770.6" x="182.1 226.3 248.0">1.5</text>
<text font-size="78" y="915.2" x="233.3">1</text>
<text font-size="78" y="1041.2" x="179.0 226.3 248.0">0.5</text>
<text font-size="78" y="1186.3" x="223.5">0</text>
<text font-size="78" y="1229.3" x="304.5">0</text>
<text font-size="78" y="1241.8" x="922.2 968.6">20</text>
<text font-size="78" y="1235.2" x="1585.7 1632.8">40</text>
<text font-size="92" y="1331.2" x="499.9 550.5 600.1 651.0 671.4 702.8 755.8 776.5 821.2 873.3 891.5 944.5 988.3 1040.8 1118.5 1169.1 1223.9 1249.4 1287.8 1318.5 1399.6 1480.1">Peel displacement [mm]</text>
<text font-size="92" transform="translate(125.4,1018.0) rotate(-90)" y="0" x="-8.8 40.9 89.2 141.2 161.6 189.3 237.1 269.2 303.1 355.1 404.6 458.8 489.5 540.6 569.0 593.6 669.1 704.1 784.7 865.9">Peel strength [N/mm]</text>
</g>
</svg>
</body></html>
